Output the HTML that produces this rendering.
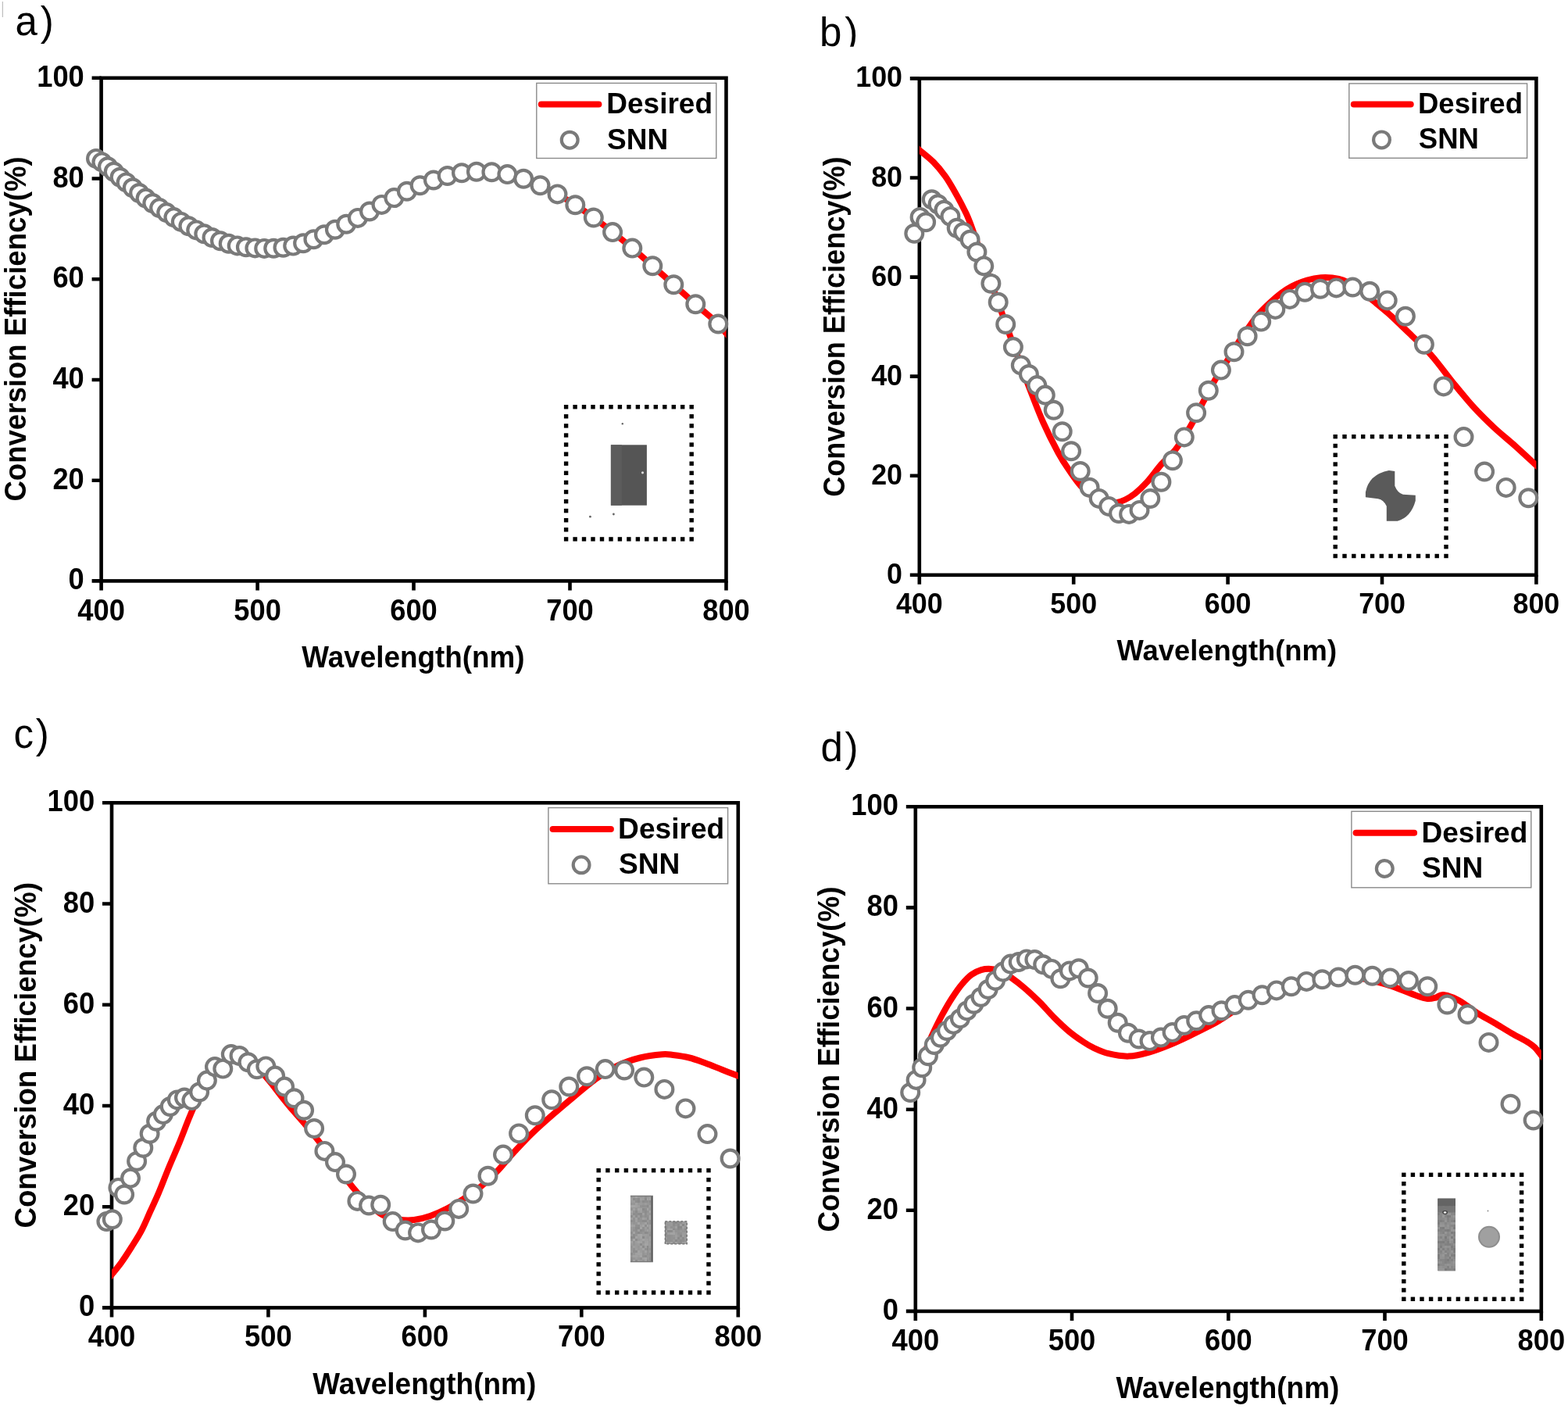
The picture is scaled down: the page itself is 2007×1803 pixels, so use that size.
<!DOCTYPE html>
<html><head><meta charset="utf-8"><title>Conversion efficiency</title><style>html,body{margin:0;padding:0;background:#fff;}svg{display:block;}</style></head><body>
<svg width="2007" height="1803" viewBox="0 0 2007 1803" font-family="Liberation Sans, Arial, Helvetica, sans-serif"><defs><clipPath id="clipb"><rect x="1030" y="0" width="100" height="59.7"/></clipPath></defs><rect width="2007" height="1803" fill="#fff"/><path d="M3.3,2V22" stroke="#b0b0b0" stroke-width="1"/><rect x="129.6" y="99.8" width="799.9" height="643.6" fill="none" stroke="#000" stroke-width="4.6"/>
<path d="M117.6,743.4H129.6M117.6,614.7H129.6M117.6,486.0H129.6M117.6,357.2H129.6M117.6,228.5H129.6M117.6,99.8H129.6M129.6,743.4V755.4M329.6,743.4V755.4M529.5,743.4V755.4M729.5,743.4V755.4M929.5,743.4V755.4" stroke="#000" stroke-width="4.6" fill="none"/>
<text transform="translate(107.8,754.4) scale(1,1.045)" font-size="36.30" font-weight="bold" text-anchor="end">0</text>
<text transform="translate(107.8,625.7) scale(1,1.045)" font-size="36.30" font-weight="bold" text-anchor="end">20</text>
<text transform="translate(107.8,497.0) scale(1,1.045)" font-size="36.30" font-weight="bold" text-anchor="end">40</text>
<text transform="translate(107.8,368.2) scale(1,1.045)" font-size="36.30" font-weight="bold" text-anchor="end">60</text>
<text transform="translate(107.8,239.5) scale(1,1.045)" font-size="36.30" font-weight="bold" text-anchor="end">80</text>
<text transform="translate(107.8,110.8) scale(1,1.045)" font-size="36.30" font-weight="bold" text-anchor="end">100</text>
<text transform="translate(129.6,793.5) scale(1,1.045)" font-size="36.30" font-weight="bold" text-anchor="middle">400</text>
<text transform="translate(329.6,793.5) scale(1,1.045)" font-size="36.30" font-weight="bold" text-anchor="middle">500</text>
<text transform="translate(529.5,793.5) scale(1,1.045)" font-size="36.30" font-weight="bold" text-anchor="middle">600</text>
<text transform="translate(729.5,793.5) scale(1,1.045)" font-size="36.30" font-weight="bold" text-anchor="middle">700</text>
<text transform="translate(929.5,793.5) scale(1,1.045)" font-size="36.30" font-weight="bold" text-anchor="middle">800</text>
<text transform="translate(386.3,853.5) scale(1,1.027)" font-size="36.85" font-weight="bold" text-anchor="start">Wavelength(nm)</text>
<text transform="translate(33.3,641.6) rotate(-90) scale(1,1.050)" font-size="36.60" font-weight="bold">Conversion Efficiency(%)</text>
<rect x="781.9" y="569.3" width="46" height="77.4" fill="#555"/><rect x="781.9" y="569.3" width="14" height="77.4" fill="#5c5c5c"/><circle cx="822.5" cy="604.8" r="1.6" fill="#ddd"/><circle cx="796.8" cy="542.3" r="1.2" fill="#666"/><circle cx="785.4" cy="658" r="1.4" fill="#666"/><circle cx="755.4" cy="661.2" r="1.4" fill="#666"/>
<g fill="#000"><rect x="721.9" y="518.0" width="5.4" height="5.4"/><rect x="733.4" y="518.0" width="5.4" height="5.4"/><rect x="744.8" y="518.0" width="5.4" height="5.4"/><rect x="756.3" y="518.0" width="5.4" height="5.4"/><rect x="767.8" y="518.0" width="5.4" height="5.4"/><rect x="779.3" y="518.0" width="5.4" height="5.4"/><rect x="790.7" y="518.0" width="5.4" height="5.4"/><rect x="802.2" y="518.0" width="5.4" height="5.4"/><rect x="813.7" y="518.0" width="5.4" height="5.4"/><rect x="825.1" y="518.0" width="5.4" height="5.4"/><rect x="836.6" y="518.0" width="5.4" height="5.4"/><rect x="848.1" y="518.0" width="5.4" height="5.4"/><rect x="859.6" y="518.0" width="5.4" height="5.4"/><rect x="871.0" y="518.0" width="5.4" height="5.4"/><rect x="882.5" y="518.0" width="5.4" height="5.4"/><rect x="721.9" y="687.2" width="5.4" height="5.4"/><rect x="733.4" y="687.2" width="5.4" height="5.4"/><rect x="744.8" y="687.2" width="5.4" height="5.4"/><rect x="756.3" y="687.2" width="5.4" height="5.4"/><rect x="767.8" y="687.2" width="5.4" height="5.4"/><rect x="779.3" y="687.2" width="5.4" height="5.4"/><rect x="790.7" y="687.2" width="5.4" height="5.4"/><rect x="802.2" y="687.2" width="5.4" height="5.4"/><rect x="813.7" y="687.2" width="5.4" height="5.4"/><rect x="825.1" y="687.2" width="5.4" height="5.4"/><rect x="836.6" y="687.2" width="5.4" height="5.4"/><rect x="848.1" y="687.2" width="5.4" height="5.4"/><rect x="859.6" y="687.2" width="5.4" height="5.4"/><rect x="871.0" y="687.2" width="5.4" height="5.4"/><rect x="882.5" y="687.2" width="5.4" height="5.4"/><rect x="721.9" y="530.1" width="5.4" height="5.4"/><rect x="721.9" y="542.2" width="5.4" height="5.4"/><rect x="721.9" y="554.3" width="5.4" height="5.4"/><rect x="721.9" y="566.3" width="5.4" height="5.4"/><rect x="721.9" y="578.4" width="5.4" height="5.4"/><rect x="721.9" y="590.5" width="5.4" height="5.4"/><rect x="721.9" y="602.6" width="5.4" height="5.4"/><rect x="721.9" y="614.7" width="5.4" height="5.4"/><rect x="721.9" y="626.8" width="5.4" height="5.4"/><rect x="721.9" y="638.9" width="5.4" height="5.4"/><rect x="721.9" y="650.9" width="5.4" height="5.4"/><rect x="721.9" y="663.0" width="5.4" height="5.4"/><rect x="721.9" y="675.1" width="5.4" height="5.4"/><rect x="882.5" y="530.1" width="5.4" height="5.4"/><rect x="882.5" y="542.2" width="5.4" height="5.4"/><rect x="882.5" y="554.3" width="5.4" height="5.4"/><rect x="882.5" y="566.3" width="5.4" height="5.4"/><rect x="882.5" y="578.4" width="5.4" height="5.4"/><rect x="882.5" y="590.5" width="5.4" height="5.4"/><rect x="882.5" y="602.6" width="5.4" height="5.4"/><rect x="882.5" y="614.7" width="5.4" height="5.4"/><rect x="882.5" y="626.8" width="5.4" height="5.4"/><rect x="882.5" y="638.9" width="5.4" height="5.4"/><rect x="882.5" y="650.9" width="5.4" height="5.4"/><rect x="882.5" y="663.0" width="5.4" height="5.4"/><rect x="882.5" y="675.1" width="5.4" height="5.4"/></g>
<clipPath id="rclipa"><rect x="129.6" y="79.8" width="799.9" height="683.6"/></clipPath>
<path clip-path="url(#rclipa)" d="M126.0,201.5 C126.6,202.3 128.9,205.3 129.6,206.3 C130.3,207.3 129.0,206.3 130.4,207.4 C131.8,208.5 135.5,211.1 138.0,213.2 C140.5,215.2 143.1,217.6 145.7,219.8 C148.3,222.1 150.9,224.4 153.6,226.7 C156.2,228.9 158.9,231.2 161.6,233.4 C164.3,235.7 167.0,237.9 169.8,240.2 C172.5,242.5 175.3,244.8 178.1,247.0 C180.9,249.2 183.7,251.4 186.6,253.6 C189.5,255.8 192.3,257.9 195.3,260.0 C198.2,262.1 201.1,264.1 204.1,266.1 C207.1,268.1 210.1,270.1 213.2,272.1 C216.2,274.1 219.3,276.1 222.4,278.1 C225.5,280.1 228.6,282.0 231.8,283.9 C235.0,285.8 238.2,287.6 241.4,289.3 C244.6,291.1 247.9,292.7 251.2,294.4 C254.5,296.1 257.9,297.7 261.3,299.3 C264.7,300.9 268.1,302.5 271.5,304.0 C275.0,305.5 278.5,306.9 282.0,308.2 C285.6,309.5 289.1,310.7 292.7,311.7 C296.4,312.8 300.0,313.6 303.7,314.4 C307.4,315.1 311.2,315.7 314.9,316.2 C318.7,316.7 322.5,317.1 326.4,317.4 C330.3,317.6 334.2,317.8 338.2,317.9 C342.1,318.0 346.1,318.0 350.2,317.8 C354.3,317.6 358.4,317.3 362.5,316.8 C366.7,316.3 370.9,315.5 375.2,314.6 C379.4,313.7 383.7,312.6 388.1,311.2 C392.5,309.8 396.9,308.1 401.4,306.3 C405.8,304.4 410.4,302.3 415.0,300.2 C419.6,298.1 424.2,296.0 428.9,293.7 C433.6,291.5 438.4,289.2 443.2,286.7 C448.1,284.2 453.0,281.6 457.9,278.9 C462.9,276.2 467.9,273.3 473.0,270.5 C478.1,267.7 483.3,264.8 488.5,261.9 C493.7,259.0 499.0,256.0 504.4,253.1 C509.8,250.2 515.2,247.4 520.8,244.7 C526.3,242.1 531.9,239.6 537.6,237.2 C543.3,234.8 549.1,232.5 554.9,230.5 C560.8,228.5 566.7,226.6 572.7,225.0 C578.7,223.5 584.8,222.2 591.0,221.3 C597.3,220.4 603.5,219.9 609.9,219.7 C616.3,219.5 622.8,219.7 629.4,220.2 C636.0,220.8 642.7,221.7 649.4,223.1 C656.2,224.5 663.1,226.3 670.1,228.7 C677.1,231.1 684.2,234.0 691.5,237.3 C698.7,240.6 706.0,244.3 713.5,248.4 C721.0,252.6 728.6,257.2 736.3,262.2 C744.0,267.2 751.8,272.7 759.8,278.5 C767.8,284.3 775.9,290.6 784.1,297.1 C792.4,303.6 800.8,310.4 809.3,317.6 C817.8,324.8 826.5,332.4 835.3,340.2 C844.2,348.0 853.2,356.1 862.3,364.3 C871.5,372.5 880.8,380.8 890.3,389.2 C899.8,397.6 912.8,408.3 919.3,414.5 C925.8,420.7 927.2,423.7 929.5,426.5 C931.8,429.3 932.7,430.3 933.4,431.1" fill="none" stroke="#ff0000" stroke-width="8.0" stroke-linejoin="round"/>
<g fill="#fff" stroke="#7a7a7a" stroke-width="4.2"><circle cx="123.0" cy="202.9" r="10.9"/><circle cx="130.4" cy="207.4" r="10.9"/><circle cx="138.0" cy="213.2" r="10.9"/><circle cx="145.7" cy="219.8" r="10.9"/><circle cx="153.6" cy="226.7" r="10.9"/><circle cx="161.6" cy="233.4" r="10.9"/><circle cx="169.8" cy="240.2" r="10.9"/><circle cx="178.1" cy="247.0" r="10.9"/><circle cx="186.6" cy="253.6" r="10.9"/><circle cx="195.3" cy="260.0" r="10.9"/><circle cx="204.1" cy="266.1" r="10.9"/><circle cx="213.2" cy="272.1" r="10.9"/><circle cx="222.4" cy="278.1" r="10.9"/><circle cx="231.8" cy="283.9" r="10.9"/><circle cx="241.4" cy="289.3" r="10.9"/><circle cx="251.2" cy="294.4" r="10.9"/><circle cx="261.3" cy="299.3" r="10.9"/><circle cx="271.5" cy="304.0" r="10.9"/><circle cx="282.0" cy="308.2" r="10.9"/><circle cx="292.7" cy="311.7" r="10.9"/><circle cx="303.7" cy="314.4" r="10.9"/><circle cx="314.9" cy="316.2" r="10.9"/><circle cx="326.4" cy="317.4" r="10.9"/><circle cx="338.2" cy="317.9" r="10.9"/><circle cx="350.2" cy="317.8" r="10.9"/><circle cx="362.5" cy="316.8" r="10.9"/><circle cx="375.2" cy="314.6" r="10.9"/><circle cx="388.1" cy="311.2" r="10.9"/><circle cx="401.4" cy="306.3" r="10.9"/><circle cx="415.0" cy="300.2" r="10.9"/><circle cx="428.9" cy="293.7" r="10.9"/><circle cx="443.2" cy="286.7" r="10.9"/><circle cx="457.9" cy="278.9" r="10.9"/><circle cx="473.0" cy="270.5" r="10.9"/><circle cx="488.5" cy="261.9" r="10.9"/><circle cx="504.4" cy="253.1" r="10.9"/><circle cx="520.8" cy="244.7" r="10.9"/><circle cx="537.6" cy="237.2" r="10.9"/><circle cx="554.9" cy="230.5" r="10.9"/><circle cx="572.7" cy="225.0" r="10.9"/><circle cx="591.0" cy="221.3" r="10.9"/><circle cx="609.9" cy="219.7" r="10.9"/><circle cx="629.4" cy="220.2" r="10.9"/><circle cx="649.4" cy="223.1" r="10.9"/><circle cx="670.1" cy="228.7" r="10.9"/><circle cx="691.5" cy="237.3" r="10.9"/><circle cx="713.5" cy="248.4" r="10.9"/><circle cx="736.3" cy="262.2" r="10.9"/><circle cx="759.8" cy="278.5" r="10.9"/><circle cx="784.1" cy="297.1" r="10.9"/><circle cx="809.3" cy="317.6" r="10.9"/><circle cx="835.3" cy="340.2" r="10.9"/><circle cx="862.3" cy="364.3" r="10.9"/><circle cx="890.3" cy="389.2" r="10.9"/><circle cx="919.3" cy="414.5" r="10.9"/></g>
<rect x="686.8" y="106.4" width="230.0" height="96.1" fill="#fff" stroke="#8a8a8a" stroke-width="1.4"/>
<path d="M692.8,133.5H766.4" stroke="#ff0000" stroke-width="8" stroke-linecap="round"/>
<circle cx="729.2" cy="179.2" r="10.4" fill="#fff" stroke="#7a7a7a" stroke-width="4.2"/>
<text x="776.3" y="144.9" font-size="37.00" font-weight="bold" text-anchor="start">Desired</text>
<text x="777.1" y="190.9" font-size="37.00" font-weight="bold" text-anchor="start">SNN</text>
<text x="19.4" y="44.8" font-size="51" font-weight="normal">a</text><text x="51.8" y="44.8" font-size="51" font-weight="normal">)</text>
<rect x="1176.8" y="100.4" width="789.6" height="635.4" fill="none" stroke="#000" stroke-width="4.6"/>
<path d="M1164.8,735.8H1176.8M1164.8,608.7H1176.8M1164.8,481.6H1176.8M1164.8,354.6H1176.8M1164.8,227.5H1176.8M1164.8,100.4H1176.8M1176.8,735.8V747.8M1374.2,735.8V747.8M1571.6,735.8V747.8M1769.0,735.8V747.8M1966.4,735.8V747.8" stroke="#000" stroke-width="4.6" fill="none"/>
<text transform="translate(1155.0,746.8) scale(1,1.045)" font-size="35.83" font-weight="bold" text-anchor="end">0</text>
<text transform="translate(1155.0,619.7) scale(1,1.045)" font-size="35.83" font-weight="bold" text-anchor="end">20</text>
<text transform="translate(1155.0,492.6) scale(1,1.045)" font-size="35.83" font-weight="bold" text-anchor="end">40</text>
<text transform="translate(1155.0,365.6) scale(1,1.045)" font-size="35.83" font-weight="bold" text-anchor="end">60</text>
<text transform="translate(1155.0,238.5) scale(1,1.045)" font-size="35.83" font-weight="bold" text-anchor="end">80</text>
<text transform="translate(1155.0,111.4) scale(1,1.045)" font-size="35.83" font-weight="bold" text-anchor="end">100</text>
<text transform="translate(1176.8,784.6) scale(1,1.045)" font-size="35.83" font-weight="bold" text-anchor="middle">400</text>
<text transform="translate(1374.2,784.6) scale(1,1.045)" font-size="35.83" font-weight="bold" text-anchor="middle">500</text>
<text transform="translate(1571.6,784.6) scale(1,1.045)" font-size="35.83" font-weight="bold" text-anchor="middle">600</text>
<text transform="translate(1769.0,784.6) scale(1,1.045)" font-size="35.83" font-weight="bold" text-anchor="middle">700</text>
<text transform="translate(1966.4,784.6) scale(1,1.045)" font-size="35.83" font-weight="bold" text-anchor="middle">800</text>
<text transform="translate(1429.5,845.0) scale(1,1.027)" font-size="36.37" font-weight="bold" text-anchor="start">Wavelength(nm)</text>
<text transform="translate(1081.0,635.8) rotate(-90) scale(1,1.050)" font-size="36.12" font-weight="bold">Conversion Efficiency(%)</text>
<path d="M1747.9,629.8 Q1752,607 1777.8,601.9 L1785.3,602.9 L1785.3,621.8 Q1789,631 1795.8,632.8 L1811.8,633.8 L1811.8,640.8 Q1806,662 1788.8,666.8 L1774.8,666.8 L1774.8,647.8 Q1771,639.5 1763.9,638.3 L1747.9,636.3 Z" fill="#5a5a5a"/>
<g fill="#000"><rect x="1706.5" y="556.0" width="5.4" height="5.4"/><rect x="1718.3" y="556.0" width="5.4" height="5.4"/><rect x="1730.1" y="556.0" width="5.4" height="5.4"/><rect x="1742.0" y="556.0" width="5.4" height="5.4"/><rect x="1753.8" y="556.0" width="5.4" height="5.4"/><rect x="1765.6" y="556.0" width="5.4" height="5.4"/><rect x="1777.4" y="556.0" width="5.4" height="5.4"/><rect x="1789.2" y="556.0" width="5.4" height="5.4"/><rect x="1801.0" y="556.0" width="5.4" height="5.4"/><rect x="1812.8" y="556.0" width="5.4" height="5.4"/><rect x="1824.7" y="556.0" width="5.4" height="5.4"/><rect x="1836.5" y="556.0" width="5.4" height="5.4"/><rect x="1848.3" y="556.0" width="5.4" height="5.4"/><rect x="1706.5" y="708.8" width="5.4" height="5.4"/><rect x="1718.3" y="708.8" width="5.4" height="5.4"/><rect x="1730.1" y="708.8" width="5.4" height="5.4"/><rect x="1742.0" y="708.8" width="5.4" height="5.4"/><rect x="1753.8" y="708.8" width="5.4" height="5.4"/><rect x="1765.6" y="708.8" width="5.4" height="5.4"/><rect x="1777.4" y="708.8" width="5.4" height="5.4"/><rect x="1789.2" y="708.8" width="5.4" height="5.4"/><rect x="1801.0" y="708.8" width="5.4" height="5.4"/><rect x="1812.8" y="708.8" width="5.4" height="5.4"/><rect x="1824.7" y="708.8" width="5.4" height="5.4"/><rect x="1836.5" y="708.8" width="5.4" height="5.4"/><rect x="1848.3" y="708.8" width="5.4" height="5.4"/><rect x="1706.5" y="567.8" width="5.4" height="5.4"/><rect x="1706.5" y="579.5" width="5.4" height="5.4"/><rect x="1706.5" y="591.3" width="5.4" height="5.4"/><rect x="1706.5" y="603.0" width="5.4" height="5.4"/><rect x="1706.5" y="614.8" width="5.4" height="5.4"/><rect x="1706.5" y="626.5" width="5.4" height="5.4"/><rect x="1706.5" y="638.3" width="5.4" height="5.4"/><rect x="1706.5" y="650.0" width="5.4" height="5.4"/><rect x="1706.5" y="661.8" width="5.4" height="5.4"/><rect x="1706.5" y="673.5" width="5.4" height="5.4"/><rect x="1706.5" y="685.3" width="5.4" height="5.4"/><rect x="1706.5" y="697.0" width="5.4" height="5.4"/><rect x="1848.3" y="567.8" width="5.4" height="5.4"/><rect x="1848.3" y="579.5" width="5.4" height="5.4"/><rect x="1848.3" y="591.3" width="5.4" height="5.4"/><rect x="1848.3" y="603.0" width="5.4" height="5.4"/><rect x="1848.3" y="614.8" width="5.4" height="5.4"/><rect x="1848.3" y="626.5" width="5.4" height="5.4"/><rect x="1848.3" y="638.3" width="5.4" height="5.4"/><rect x="1848.3" y="650.0" width="5.4" height="5.4"/><rect x="1848.3" y="661.8" width="5.4" height="5.4"/><rect x="1848.3" y="673.5" width="5.4" height="5.4"/><rect x="1848.3" y="685.3" width="5.4" height="5.4"/><rect x="1848.3" y="697.0" width="5.4" height="5.4"/></g>
<clipPath id="rclipb"><rect x="1176.8" y="80.4" width="789.6" height="675.4"/></clipPath>
<path clip-path="url(#rclipb)" d="M1172.2,188.1 C1173.0,188.7 1173.0,188.8 1176.8,192.0 C1180.6,195.2 1189.3,201.8 1194.8,207.4 C1200.3,213.0 1205.3,219.1 1209.8,225.3 C1214.3,231.5 1217.7,237.7 1221.7,244.7 C1225.7,251.7 1230.3,260.3 1233.7,267.2 C1237.1,274.1 1237.3,273.4 1242.0,286.0 C1246.7,298.6 1255.2,323.7 1262.0,343.0 C1268.8,362.3 1277.8,387.4 1282.9,401.9 C1288.1,416.4 1289.1,419.4 1292.9,429.8 C1296.7,440.2 1301.2,452.3 1305.5,464.0 C1309.8,475.7 1314.1,487.3 1319.0,500.0 C1323.9,512.7 1329.1,526.8 1335.0,540.0 C1340.9,553.2 1348.8,568.8 1354.3,579.0 C1359.8,589.2 1363.0,593.8 1368.0,601.0 C1373.0,608.2 1378.2,616.2 1384.0,622.5 C1389.8,628.8 1397.8,635.1 1403.1,638.6 C1408.4,642.1 1411.8,642.7 1416.0,643.5 C1420.2,644.3 1424.1,644.1 1428.1,643.4 C1432.1,642.7 1435.8,641.5 1440.0,639.5 C1444.2,637.5 1448.3,635.0 1453.0,631.3 C1457.7,627.5 1462.4,623.2 1468.0,617.0 C1473.6,610.8 1480.4,601.1 1486.6,594.0 C1492.8,586.9 1499.1,582.6 1505.3,574.4 C1511.5,566.2 1518.2,555.0 1524.0,545.0 C1529.8,535.0 1534.7,524.4 1540.0,514.4 C1545.3,504.4 1550.6,494.2 1555.9,485.1 C1561.2,476.0 1566.8,468.0 1571.9,459.8 C1577.0,451.6 1581.8,443.1 1586.5,435.9 C1591.2,428.7 1595.5,422.6 1599.9,416.5 C1604.4,410.4 1607.7,405.5 1613.2,399.5 C1618.8,393.5 1627.7,385.3 1633.2,380.5 C1638.7,375.7 1641.9,373.3 1646.3,370.5 C1650.7,367.7 1655.3,365.5 1659.8,363.5 C1664.2,361.5 1667.8,359.9 1673.0,358.5 C1678.2,357.1 1685.4,355.7 1690.7,355.2 C1696.0,354.7 1700.3,354.9 1705.0,355.5 C1709.7,356.1 1713.7,356.4 1719.0,358.5 C1724.3,360.6 1730.3,363.4 1737.0,368.0 C1743.7,372.6 1752.4,380.6 1759.0,386.0 C1765.6,391.4 1771.4,396.1 1776.7,400.7 C1782.0,405.3 1786.1,409.5 1790.7,413.9 C1795.3,418.3 1797.6,420.3 1804.6,427.2 C1811.6,434.1 1823.3,444.7 1832.5,455.1 C1841.7,465.5 1850.7,478.5 1859.7,489.5 C1868.7,500.5 1877.4,511.3 1886.3,521.0 C1895.2,530.7 1904.0,539.3 1912.9,547.6 C1921.8,555.9 1930.6,562.7 1939.5,570.7 C1948.4,578.7 1961.2,590.7 1966.4,595.5 C1971.6,600.3 1970.1,598.9 1970.8,599.6" fill="none" stroke="#ff0000" stroke-width="8.0" stroke-linejoin="round"/>
<g fill="#fff" stroke="#7a7a7a" stroke-width="4.2"><circle cx="1170.3" cy="298.8" r="10.9"/><circle cx="1177.6" cy="277.9" r="10.9"/><circle cx="1185.1" cy="284.3" r="10.9"/><circle cx="1192.7" cy="255.2" r="10.9"/><circle cx="1200.5" cy="261.2" r="10.9"/><circle cx="1208.4" cy="268.7" r="10.9"/><circle cx="1216.4" cy="276.9" r="10.9"/><circle cx="1224.7" cy="291.8" r="10.9"/><circle cx="1233.1" cy="297.0" r="10.9"/><circle cx="1241.6" cy="306.8" r="10.9"/><circle cx="1250.4" cy="322.5" r="10.9"/><circle cx="1259.3" cy="340.4" r="10.9"/><circle cx="1268.4" cy="362.8" r="10.9"/><circle cx="1277.7" cy="386.7" r="10.9"/><circle cx="1287.2" cy="415.0" r="10.9"/><circle cx="1296.9" cy="444.1" r="10.9"/><circle cx="1306.8" cy="467.4" r="10.9"/><circle cx="1316.9" cy="479.0" r="10.9"/><circle cx="1327.3" cy="493.1" r="10.9"/><circle cx="1337.8" cy="505.6" r="10.9"/><circle cx="1348.7" cy="524.8" r="10.9"/><circle cx="1359.7" cy="552.2" r="10.9"/><circle cx="1371.1" cy="577.2" r="10.9"/><circle cx="1382.7" cy="603.0" r="10.9"/><circle cx="1394.6" cy="623.8" r="10.9"/><circle cx="1406.7" cy="637.9" r="10.9"/><circle cx="1419.2" cy="647.9" r="10.9"/><circle cx="1432.0" cy="657.0" r="10.9"/><circle cx="1445.1" cy="657.9" r="10.9"/><circle cx="1458.5" cy="652.9" r="10.9"/><circle cx="1472.3" cy="638.0" r="10.9"/><circle cx="1486.4" cy="616.8" r="10.9"/><circle cx="1500.9" cy="589.3" r="10.9"/><circle cx="1515.8" cy="559.4" r="10.9"/><circle cx="1531.1" cy="528.2" r="10.9"/><circle cx="1546.8" cy="499.7" r="10.9"/><circle cx="1562.9" cy="473.6" r="10.9"/><circle cx="1579.5" cy="450.2" r="10.9"/><circle cx="1596.6" cy="430.3" r="10.9"/><circle cx="1614.2" cy="411.6" r="10.9"/><circle cx="1632.3" cy="395.9" r="10.9"/><circle cx="1650.9" cy="382.9" r="10.9"/><circle cx="1670.2" cy="373.7" r="10.9"/><circle cx="1690.0" cy="369.8" r="10.9"/><circle cx="1710.4" cy="368.4" r="10.9"/><circle cx="1731.4" cy="367.5" r="10.9"/><circle cx="1753.2" cy="372.8" r="10.9"/><circle cx="1775.7" cy="384.4" r="10.9"/><circle cx="1798.9" cy="404.8" r="10.9"/><circle cx="1822.9" cy="440.8" r="10.9"/><circle cx="1847.7" cy="494.4" r="10.9"/><circle cx="1873.5" cy="559.1" r="10.9"/><circle cx="1900.1" cy="603.5" r="10.9"/><circle cx="1927.7" cy="623.9" r="10.9"/><circle cx="1956.3" cy="637.2" r="10.9"/></g>
<rect x="1726.8" y="106.9" width="227.8" height="95.4" fill="#fff" stroke="#8a8a8a" stroke-width="1.4"/>
<path d="M1732.8,133.6H1805.7" stroke="#ff0000" stroke-width="8" stroke-linecap="round"/>
<circle cx="1768.5" cy="178.9" r="10.4" fill="#fff" stroke="#7a7a7a" stroke-width="4.2"/>
<text x="1815.0" y="144.5" font-size="36.52" font-weight="bold" text-anchor="start">Desired</text>
<text x="1815.8" y="190.2" font-size="36.52" font-weight="bold" text-anchor="start">SNN</text>
<g clip-path="url(#clipb)"><text x="1049.1" y="58.6" font-size="51" font-weight="normal">b</text><text x="1081.2" y="58.6" font-size="51" font-weight="normal">)</text></g>
<rect x="143.0" y="1027.3" width="801.8" height="646.1" fill="none" stroke="#000" stroke-width="4.6"/>
<path d="M131.0,1673.4H143.0M131.0,1544.2H143.0M131.0,1415.0H143.0M131.0,1285.7H143.0M131.0,1156.5H143.0M131.0,1027.3H143.0M143.0,1673.4V1685.4M343.4,1673.4V1685.4M543.9,1673.4V1685.4M744.3,1673.4V1685.4M944.8,1673.4V1685.4" stroke="#000" stroke-width="4.6" fill="none"/>
<text transform="translate(121.2,1684.4) scale(1,1.045)" font-size="36.41" font-weight="bold" text-anchor="end">0</text>
<text transform="translate(121.2,1555.2) scale(1,1.045)" font-size="36.41" font-weight="bold" text-anchor="end">20</text>
<text transform="translate(121.2,1426.0) scale(1,1.045)" font-size="36.41" font-weight="bold" text-anchor="end">40</text>
<text transform="translate(121.2,1296.7) scale(1,1.045)" font-size="36.41" font-weight="bold" text-anchor="end">60</text>
<text transform="translate(121.2,1167.5) scale(1,1.045)" font-size="36.41" font-weight="bold" text-anchor="end">80</text>
<text transform="translate(121.2,1038.3) scale(1,1.045)" font-size="36.41" font-weight="bold" text-anchor="end">100</text>
<text transform="translate(143.0,1723.3) scale(1,1.045)" font-size="36.41" font-weight="bold" text-anchor="middle">400</text>
<text transform="translate(343.4,1723.3) scale(1,1.045)" font-size="36.41" font-weight="bold" text-anchor="middle">500</text>
<text transform="translate(543.9,1723.3) scale(1,1.045)" font-size="36.41" font-weight="bold" text-anchor="middle">600</text>
<text transform="translate(744.3,1723.3) scale(1,1.045)" font-size="36.41" font-weight="bold" text-anchor="middle">700</text>
<text transform="translate(944.8,1723.3) scale(1,1.045)" font-size="36.41" font-weight="bold" text-anchor="middle">800</text>
<text transform="translate(400.2,1784.2) scale(1,1.027)" font-size="36.96" font-weight="bold" text-anchor="start">Wavelength(nm)</text>
<text transform="translate(46.3,1571.6) rotate(-90) scale(1,1.050)" font-size="36.71" font-weight="bold">Conversion Efficiency(%)</text>
<rect x="806.9" y="1530.4" width="26.5" height="84.3" fill="#989898"/><g shape-rendering="crispEdges"><rect x="806.9" y="1530.4" width="2.99" height="3.06" fill="#969696"/><rect x="809.8" y="1530.4" width="2.99" height="3.06" fill="#999999"/><rect x="812.8" y="1530.4" width="2.99" height="3.06" fill="#a3a3a3"/><rect x="815.7" y="1530.4" width="2.99" height="3.06" fill="#979797"/><rect x="818.7" y="1530.4" width="2.99" height="3.06" fill="#989898"/><rect x="821.6" y="1530.4" width="2.99" height="3.06" fill="#9a9a9a"/><rect x="824.6" y="1530.4" width="2.99" height="3.06" fill="#8f8f8f"/><rect x="827.5" y="1530.4" width="2.99" height="3.06" fill="#989898"/><rect x="830.5" y="1530.4" width="2.99" height="3.06" fill="#9b9b9b"/><rect x="806.9" y="1533.4" width="2.99" height="3.06" fill="#a0a0a0"/><rect x="809.8" y="1533.4" width="2.99" height="3.06" fill="#8c8c8c"/><rect x="812.8" y="1533.4" width="2.99" height="3.06" fill="#929292"/><rect x="815.7" y="1533.4" width="2.99" height="3.06" fill="#8c8c8c"/><rect x="818.7" y="1533.4" width="2.99" height="3.06" fill="#a0a0a0"/><rect x="821.6" y="1533.4" width="2.99" height="3.06" fill="#9d9d9d"/><rect x="824.6" y="1533.4" width="2.99" height="3.06" fill="#8b8b8b"/><rect x="827.5" y="1533.4" width="2.99" height="3.06" fill="#a5a5a5"/><rect x="830.5" y="1533.4" width="2.99" height="3.06" fill="#a5a5a5"/><rect x="806.9" y="1536.4" width="2.99" height="3.06" fill="#9c9c9c"/><rect x="809.8" y="1536.4" width="2.99" height="3.06" fill="#9b9b9b"/><rect x="812.8" y="1536.4" width="2.99" height="3.06" fill="#8e8e8e"/><rect x="815.7" y="1536.4" width="2.99" height="3.06" fill="#8a8a8a"/><rect x="818.7" y="1536.4" width="2.99" height="3.06" fill="#989898"/><rect x="821.6" y="1536.4" width="2.99" height="3.06" fill="#8b8b8b"/><rect x="824.6" y="1536.4" width="2.99" height="3.06" fill="#8f8f8f"/><rect x="827.5" y="1536.4" width="2.99" height="3.06" fill="#909090"/><rect x="830.5" y="1536.4" width="2.99" height="3.06" fill="#8a8a8a"/><rect x="806.9" y="1539.4" width="2.99" height="3.06" fill="#969696"/><rect x="809.8" y="1539.4" width="2.99" height="3.06" fill="#969696"/><rect x="812.8" y="1539.4" width="2.99" height="3.06" fill="#a1a1a1"/><rect x="815.7" y="1539.4" width="2.99" height="3.06" fill="#989898"/><rect x="818.7" y="1539.4" width="2.99" height="3.06" fill="#9b9b9b"/><rect x="821.6" y="1539.4" width="2.99" height="3.06" fill="#979797"/><rect x="824.6" y="1539.4" width="2.99" height="3.06" fill="#9c9c9c"/><rect x="827.5" y="1539.4" width="2.99" height="3.06" fill="#969696"/><rect x="830.5" y="1539.4" width="2.99" height="3.06" fill="#919191"/><rect x="806.9" y="1542.4" width="2.99" height="3.06" fill="#a5a5a5"/><rect x="809.8" y="1542.4" width="2.99" height="3.06" fill="#a5a5a5"/><rect x="812.8" y="1542.4" width="2.99" height="3.06" fill="#a1a1a1"/><rect x="815.7" y="1542.4" width="2.99" height="3.06" fill="#9d9d9d"/><rect x="818.7" y="1542.4" width="2.99" height="3.06" fill="#929292"/><rect x="821.6" y="1542.4" width="2.99" height="3.06" fill="#909090"/><rect x="824.6" y="1542.4" width="2.99" height="3.06" fill="#929292"/><rect x="827.5" y="1542.4" width="2.99" height="3.06" fill="#8b8b8b"/><rect x="830.5" y="1542.4" width="2.99" height="3.06" fill="#9f9f9f"/><rect x="806.9" y="1545.5" width="2.99" height="3.06" fill="#959595"/><rect x="809.8" y="1545.5" width="2.99" height="3.06" fill="#a1a1a1"/><rect x="812.8" y="1545.5" width="2.99" height="3.06" fill="#949494"/><rect x="815.7" y="1545.5" width="2.99" height="3.06" fill="#a4a4a4"/><rect x="818.7" y="1545.5" width="2.99" height="3.06" fill="#a1a1a1"/><rect x="821.6" y="1545.5" width="2.99" height="3.06" fill="#8a8a8a"/><rect x="824.6" y="1545.5" width="2.99" height="3.06" fill="#8f8f8f"/><rect x="827.5" y="1545.5" width="2.99" height="3.06" fill="#a3a3a3"/><rect x="830.5" y="1545.5" width="2.99" height="3.06" fill="#979797"/><rect x="806.9" y="1548.5" width="2.99" height="3.06" fill="#a5a5a5"/><rect x="809.8" y="1548.5" width="2.99" height="3.06" fill="#959595"/><rect x="812.8" y="1548.5" width="2.99" height="3.06" fill="#8c8c8c"/><rect x="815.7" y="1548.5" width="2.99" height="3.06" fill="#9b9b9b"/><rect x="818.7" y="1548.5" width="2.99" height="3.06" fill="#9f9f9f"/><rect x="821.6" y="1548.5" width="2.99" height="3.06" fill="#919191"/><rect x="824.6" y="1548.5" width="2.99" height="3.06" fill="#8c8c8c"/><rect x="827.5" y="1548.5" width="2.99" height="3.06" fill="#939393"/><rect x="830.5" y="1548.5" width="2.99" height="3.06" fill="#a4a4a4"/><rect x="806.9" y="1551.5" width="2.99" height="3.06" fill="#9f9f9f"/><rect x="809.8" y="1551.5" width="2.99" height="3.06" fill="#8d8d8d"/><rect x="812.8" y="1551.5" width="2.99" height="3.06" fill="#909090"/><rect x="815.7" y="1551.5" width="2.99" height="3.06" fill="#8c8c8c"/><rect x="818.7" y="1551.5" width="2.99" height="3.06" fill="#8b8b8b"/><rect x="821.6" y="1551.5" width="2.99" height="3.06" fill="#a0a0a0"/><rect x="824.6" y="1551.5" width="2.99" height="3.06" fill="#8e8e8e"/><rect x="827.5" y="1551.5" width="2.99" height="3.06" fill="#999999"/><rect x="830.5" y="1551.5" width="2.99" height="3.06" fill="#969696"/><rect x="806.9" y="1554.5" width="2.99" height="3.06" fill="#8f8f8f"/><rect x="809.8" y="1554.5" width="2.99" height="3.06" fill="#9e9e9e"/><rect x="812.8" y="1554.5" width="2.99" height="3.06" fill="#8d8d8d"/><rect x="815.7" y="1554.5" width="2.99" height="3.06" fill="#9c9c9c"/><rect x="818.7" y="1554.5" width="2.99" height="3.06" fill="#8d8d8d"/><rect x="821.6" y="1554.5" width="2.99" height="3.06" fill="#959595"/><rect x="824.6" y="1554.5" width="2.99" height="3.06" fill="#8f8f8f"/><rect x="827.5" y="1554.5" width="2.99" height="3.06" fill="#919191"/><rect x="830.5" y="1554.5" width="2.99" height="3.06" fill="#a5a5a5"/><rect x="806.9" y="1557.5" width="2.99" height="3.06" fill="#a0a0a0"/><rect x="809.8" y="1557.5" width="2.99" height="3.06" fill="#929292"/><rect x="812.8" y="1557.5" width="2.99" height="3.06" fill="#a2a2a2"/><rect x="815.7" y="1557.5" width="2.99" height="3.06" fill="#8f8f8f"/><rect x="818.7" y="1557.5" width="2.99" height="3.06" fill="#959595"/><rect x="821.6" y="1557.5" width="2.99" height="3.06" fill="#a1a1a1"/><rect x="824.6" y="1557.5" width="2.99" height="3.06" fill="#9b9b9b"/><rect x="827.5" y="1557.5" width="2.99" height="3.06" fill="#8c8c8c"/><rect x="830.5" y="1557.5" width="2.99" height="3.06" fill="#a5a5a5"/><rect x="806.9" y="1560.5" width="2.99" height="3.06" fill="#8f8f8f"/><rect x="809.8" y="1560.5" width="2.99" height="3.06" fill="#919191"/><rect x="812.8" y="1560.5" width="2.99" height="3.06" fill="#9f9f9f"/><rect x="815.7" y="1560.5" width="2.99" height="3.06" fill="#939393"/><rect x="818.7" y="1560.5" width="2.99" height="3.06" fill="#929292"/><rect x="821.6" y="1560.5" width="2.99" height="3.06" fill="#8c8c8c"/><rect x="824.6" y="1560.5" width="2.99" height="3.06" fill="#8c8c8c"/><rect x="827.5" y="1560.5" width="2.99" height="3.06" fill="#9a9a9a"/><rect x="830.5" y="1560.5" width="2.99" height="3.06" fill="#909090"/><rect x="806.9" y="1563.5" width="2.99" height="3.06" fill="#9a9a9a"/><rect x="809.8" y="1563.5" width="2.99" height="3.06" fill="#949494"/><rect x="812.8" y="1563.5" width="2.99" height="3.06" fill="#969696"/><rect x="815.7" y="1563.5" width="2.99" height="3.06" fill="#a4a4a4"/><rect x="818.7" y="1563.5" width="2.99" height="3.06" fill="#979797"/><rect x="821.6" y="1563.5" width="2.99" height="3.06" fill="#9a9a9a"/><rect x="824.6" y="1563.5" width="2.99" height="3.06" fill="#a2a2a2"/><rect x="827.5" y="1563.5" width="2.99" height="3.06" fill="#8f8f8f"/><rect x="830.5" y="1563.5" width="2.99" height="3.06" fill="#8e8e8e"/><rect x="806.9" y="1566.5" width="2.99" height="3.06" fill="#a3a3a3"/><rect x="809.8" y="1566.5" width="2.99" height="3.06" fill="#a0a0a0"/><rect x="812.8" y="1566.5" width="2.99" height="3.06" fill="#909090"/><rect x="815.7" y="1566.5" width="2.99" height="3.06" fill="#8f8f8f"/><rect x="818.7" y="1566.5" width="2.99" height="3.06" fill="#9e9e9e"/><rect x="821.6" y="1566.5" width="2.99" height="3.06" fill="#a4a4a4"/><rect x="824.6" y="1566.5" width="2.99" height="3.06" fill="#8f8f8f"/><rect x="827.5" y="1566.5" width="2.99" height="3.06" fill="#a4a4a4"/><rect x="830.5" y="1566.5" width="2.99" height="3.06" fill="#a2a2a2"/><rect x="806.9" y="1569.5" width="2.99" height="3.06" fill="#9a9a9a"/><rect x="809.8" y="1569.5" width="2.99" height="3.06" fill="#959595"/><rect x="812.8" y="1569.5" width="2.99" height="3.06" fill="#8c8c8c"/><rect x="815.7" y="1569.5" width="2.99" height="3.06" fill="#8b8b8b"/><rect x="818.7" y="1569.5" width="2.99" height="3.06" fill="#a4a4a4"/><rect x="821.6" y="1569.5" width="2.99" height="3.06" fill="#909090"/><rect x="824.6" y="1569.5" width="2.99" height="3.06" fill="#9d9d9d"/><rect x="827.5" y="1569.5" width="2.99" height="3.06" fill="#919191"/><rect x="830.5" y="1569.5" width="2.99" height="3.06" fill="#a1a1a1"/><rect x="806.9" y="1572.6" width="2.99" height="3.06" fill="#9a9a9a"/><rect x="809.8" y="1572.6" width="2.99" height="3.06" fill="#929292"/><rect x="812.8" y="1572.6" width="2.99" height="3.06" fill="#8e8e8e"/><rect x="815.7" y="1572.6" width="2.99" height="3.06" fill="#9e9e9e"/><rect x="818.7" y="1572.6" width="2.99" height="3.06" fill="#8b8b8b"/><rect x="821.6" y="1572.6" width="2.99" height="3.06" fill="#909090"/><rect x="824.6" y="1572.6" width="2.99" height="3.06" fill="#999999"/><rect x="827.5" y="1572.6" width="2.99" height="3.06" fill="#a1a1a1"/><rect x="830.5" y="1572.6" width="2.99" height="3.06" fill="#9b9b9b"/><rect x="806.9" y="1575.6" width="2.99" height="3.06" fill="#919191"/><rect x="809.8" y="1575.6" width="2.99" height="3.06" fill="#a3a3a3"/><rect x="812.8" y="1575.6" width="2.99" height="3.06" fill="#8f8f8f"/><rect x="815.7" y="1575.6" width="2.99" height="3.06" fill="#8a8a8a"/><rect x="818.7" y="1575.6" width="2.99" height="3.06" fill="#919191"/><rect x="821.6" y="1575.6" width="2.99" height="3.06" fill="#969696"/><rect x="824.6" y="1575.6" width="2.99" height="3.06" fill="#8b8b8b"/><rect x="827.5" y="1575.6" width="2.99" height="3.06" fill="#8e8e8e"/><rect x="830.5" y="1575.6" width="2.99" height="3.06" fill="#949494"/><rect x="806.9" y="1578.6" width="2.99" height="3.06" fill="#9a9a9a"/><rect x="809.8" y="1578.6" width="2.99" height="3.06" fill="#8d8d8d"/><rect x="812.8" y="1578.6" width="2.99" height="3.06" fill="#949494"/><rect x="815.7" y="1578.6" width="2.99" height="3.06" fill="#a2a2a2"/><rect x="818.7" y="1578.6" width="2.99" height="3.06" fill="#a5a5a5"/><rect x="821.6" y="1578.6" width="2.99" height="3.06" fill="#9c9c9c"/><rect x="824.6" y="1578.6" width="2.99" height="3.06" fill="#9d9d9d"/><rect x="827.5" y="1578.6" width="2.99" height="3.06" fill="#9a9a9a"/><rect x="830.5" y="1578.6" width="2.99" height="3.06" fill="#8d8d8d"/><rect x="806.9" y="1581.6" width="2.99" height="3.06" fill="#8a8a8a"/><rect x="809.8" y="1581.6" width="2.99" height="3.06" fill="#8a8a8a"/><rect x="812.8" y="1581.6" width="2.99" height="3.06" fill="#a3a3a3"/><rect x="815.7" y="1581.6" width="2.99" height="3.06" fill="#9d9d9d"/><rect x="818.7" y="1581.6" width="2.99" height="3.06" fill="#a4a4a4"/><rect x="821.6" y="1581.6" width="2.99" height="3.06" fill="#8a8a8a"/><rect x="824.6" y="1581.6" width="2.99" height="3.06" fill="#9b9b9b"/><rect x="827.5" y="1581.6" width="2.99" height="3.06" fill="#979797"/><rect x="830.5" y="1581.6" width="2.99" height="3.06" fill="#9e9e9e"/><rect x="806.9" y="1584.6" width="2.99" height="3.06" fill="#929292"/><rect x="809.8" y="1584.6" width="2.99" height="3.06" fill="#a5a5a5"/><rect x="812.8" y="1584.6" width="2.99" height="3.06" fill="#8c8c8c"/><rect x="815.7" y="1584.6" width="2.99" height="3.06" fill="#999999"/><rect x="818.7" y="1584.6" width="2.99" height="3.06" fill="#9e9e9e"/><rect x="821.6" y="1584.6" width="2.99" height="3.06" fill="#a3a3a3"/><rect x="824.6" y="1584.6" width="2.99" height="3.06" fill="#9e9e9e"/><rect x="827.5" y="1584.6" width="2.99" height="3.06" fill="#9d9d9d"/><rect x="830.5" y="1584.6" width="2.99" height="3.06" fill="#a0a0a0"/><rect x="806.9" y="1587.6" width="2.99" height="3.06" fill="#a3a3a3"/><rect x="809.8" y="1587.6" width="2.99" height="3.06" fill="#939393"/><rect x="812.8" y="1587.6" width="2.99" height="3.06" fill="#9d9d9d"/><rect x="815.7" y="1587.6" width="2.99" height="3.06" fill="#a3a3a3"/><rect x="818.7" y="1587.6" width="2.99" height="3.06" fill="#a2a2a2"/><rect x="821.6" y="1587.6" width="2.99" height="3.06" fill="#959595"/><rect x="824.6" y="1587.6" width="2.99" height="3.06" fill="#a0a0a0"/><rect x="827.5" y="1587.6" width="2.99" height="3.06" fill="#a2a2a2"/><rect x="830.5" y="1587.6" width="2.99" height="3.06" fill="#9a9a9a"/><rect x="806.9" y="1590.6" width="2.99" height="3.06" fill="#9b9b9b"/><rect x="809.8" y="1590.6" width="2.99" height="3.06" fill="#949494"/><rect x="812.8" y="1590.6" width="2.99" height="3.06" fill="#9a9a9a"/><rect x="815.7" y="1590.6" width="2.99" height="3.06" fill="#9b9b9b"/><rect x="818.7" y="1590.6" width="2.99" height="3.06" fill="#8c8c8c"/><rect x="821.6" y="1590.6" width="2.99" height="3.06" fill="#9b9b9b"/><rect x="824.6" y="1590.6" width="2.99" height="3.06" fill="#a5a5a5"/><rect x="827.5" y="1590.6" width="2.99" height="3.06" fill="#a2a2a2"/><rect x="830.5" y="1590.6" width="2.99" height="3.06" fill="#9e9e9e"/><rect x="806.9" y="1593.6" width="2.99" height="3.06" fill="#949494"/><rect x="809.8" y="1593.6" width="2.99" height="3.06" fill="#9e9e9e"/><rect x="812.8" y="1593.6" width="2.99" height="3.06" fill="#9a9a9a"/><rect x="815.7" y="1593.6" width="2.99" height="3.06" fill="#969696"/><rect x="818.7" y="1593.6" width="2.99" height="3.06" fill="#a1a1a1"/><rect x="821.6" y="1593.6" width="2.99" height="3.06" fill="#8c8c8c"/><rect x="824.6" y="1593.6" width="2.99" height="3.06" fill="#9f9f9f"/><rect x="827.5" y="1593.6" width="2.99" height="3.06" fill="#8a8a8a"/><rect x="830.5" y="1593.6" width="2.99" height="3.06" fill="#9a9a9a"/><rect x="806.9" y="1596.6" width="2.99" height="3.06" fill="#979797"/><rect x="809.8" y="1596.6" width="2.99" height="3.06" fill="#909090"/><rect x="812.8" y="1596.6" width="2.99" height="3.06" fill="#9d9d9d"/><rect x="815.7" y="1596.6" width="2.99" height="3.06" fill="#979797"/><rect x="818.7" y="1596.6" width="2.99" height="3.06" fill="#9b9b9b"/><rect x="821.6" y="1596.6" width="2.99" height="3.06" fill="#a3a3a3"/><rect x="824.6" y="1596.6" width="2.99" height="3.06" fill="#919191"/><rect x="827.5" y="1596.6" width="2.99" height="3.06" fill="#8a8a8a"/><rect x="830.5" y="1596.6" width="2.99" height="3.06" fill="#929292"/><rect x="806.9" y="1599.6" width="2.99" height="3.06" fill="#9c9c9c"/><rect x="809.8" y="1599.6" width="2.99" height="3.06" fill="#8f8f8f"/><rect x="812.8" y="1599.6" width="2.99" height="3.06" fill="#8e8e8e"/><rect x="815.7" y="1599.6" width="2.99" height="3.06" fill="#a3a3a3"/><rect x="818.7" y="1599.6" width="2.99" height="3.06" fill="#9c9c9c"/><rect x="821.6" y="1599.6" width="2.99" height="3.06" fill="#969696"/><rect x="824.6" y="1599.6" width="2.99" height="3.06" fill="#a2a2a2"/><rect x="827.5" y="1599.6" width="2.99" height="3.06" fill="#939393"/><rect x="830.5" y="1599.6" width="2.99" height="3.06" fill="#9c9c9c"/><rect x="806.9" y="1602.7" width="2.99" height="3.06" fill="#8f8f8f"/><rect x="809.8" y="1602.7" width="2.99" height="3.06" fill="#969696"/><rect x="812.8" y="1602.7" width="2.99" height="3.06" fill="#a0a0a0"/><rect x="815.7" y="1602.7" width="2.99" height="3.06" fill="#a3a3a3"/><rect x="818.7" y="1602.7" width="2.99" height="3.06" fill="#a2a2a2"/><rect x="821.6" y="1602.7" width="2.99" height="3.06" fill="#949494"/><rect x="824.6" y="1602.7" width="2.99" height="3.06" fill="#9a9a9a"/><rect x="827.5" y="1602.7" width="2.99" height="3.06" fill="#929292"/><rect x="830.5" y="1602.7" width="2.99" height="3.06" fill="#8d8d8d"/><rect x="806.9" y="1605.7" width="2.99" height="3.06" fill="#979797"/><rect x="809.8" y="1605.7" width="2.99" height="3.06" fill="#a1a1a1"/><rect x="812.8" y="1605.7" width="2.99" height="3.06" fill="#a1a1a1"/><rect x="815.7" y="1605.7" width="2.99" height="3.06" fill="#9d9d9d"/><rect x="818.7" y="1605.7" width="2.99" height="3.06" fill="#a4a4a4"/><rect x="821.6" y="1605.7" width="2.99" height="3.06" fill="#919191"/><rect x="824.6" y="1605.7" width="2.99" height="3.06" fill="#8e8e8e"/><rect x="827.5" y="1605.7" width="2.99" height="3.06" fill="#969696"/><rect x="830.5" y="1605.7" width="2.99" height="3.06" fill="#919191"/><rect x="806.9" y="1608.7" width="2.99" height="3.06" fill="#8f8f8f"/><rect x="809.8" y="1608.7" width="2.99" height="3.06" fill="#959595"/><rect x="812.8" y="1608.7" width="2.99" height="3.06" fill="#9b9b9b"/><rect x="815.7" y="1608.7" width="2.99" height="3.06" fill="#979797"/><rect x="818.7" y="1608.7" width="2.99" height="3.06" fill="#929292"/><rect x="821.6" y="1608.7" width="2.99" height="3.06" fill="#a1a1a1"/><rect x="824.6" y="1608.7" width="2.99" height="3.06" fill="#a5a5a5"/><rect x="827.5" y="1608.7" width="2.99" height="3.06" fill="#969696"/><rect x="830.5" y="1608.7" width="2.99" height="3.06" fill="#8c8c8c"/><rect x="806.9" y="1611.7" width="2.99" height="3.06" fill="#8a8a8a"/><rect x="809.8" y="1611.7" width="2.99" height="3.06" fill="#a2a2a2"/><rect x="812.8" y="1611.7" width="2.99" height="3.06" fill="#8b8b8b"/><rect x="815.7" y="1611.7" width="2.99" height="3.06" fill="#9d9d9d"/><rect x="818.7" y="1611.7" width="2.99" height="3.06" fill="#999999"/><rect x="821.6" y="1611.7" width="2.99" height="3.06" fill="#929292"/><rect x="824.6" y="1611.7" width="2.99" height="3.06" fill="#a0a0a0"/><rect x="827.5" y="1611.7" width="2.99" height="3.06" fill="#8a8a8a"/><rect x="830.5" y="1611.7" width="2.99" height="3.06" fill="#8d8d8d"/></g><rect x="833.2" y="1530.4" width="2.6" height="84.3" fill="#5e5e5e"/><path d="M806.9,1530.4h28.9M806.9,1614.7h28.9" stroke="#777" stroke-width="1.2"/><rect x="851.3" y="1562.8" width="28.0" height="29.0" fill="#969696"/><g shape-rendering="crispEdges"><rect x="851.3" y="1562.8" width="3.16" height="2.95" fill="#959595"/><rect x="854.4" y="1562.8" width="3.16" height="2.95" fill="#9a9a9a"/><rect x="857.5" y="1562.8" width="3.16" height="2.95" fill="#9a9a9a"/><rect x="860.6" y="1562.8" width="3.16" height="2.95" fill="#8b8b8b"/><rect x="863.7" y="1562.8" width="3.16" height="2.95" fill="#888888"/><rect x="866.9" y="1562.8" width="3.16" height="2.95" fill="#929292"/><rect x="870.0" y="1562.8" width="3.16" height="2.95" fill="#8f8f8f"/><rect x="873.1" y="1562.8" width="3.16" height="2.95" fill="#9e9e9e"/><rect x="876.2" y="1562.8" width="3.16" height="2.95" fill="#9b9b9b"/><rect x="851.3" y="1565.7" width="3.16" height="2.95" fill="#989898"/><rect x="854.4" y="1565.7" width="3.16" height="2.95" fill="#979797"/><rect x="857.5" y="1565.7" width="3.16" height="2.95" fill="#9a9a9a"/><rect x="860.6" y="1565.7" width="3.16" height="2.95" fill="#8c8c8c"/><rect x="863.7" y="1565.7" width="3.16" height="2.95" fill="#949494"/><rect x="866.9" y="1565.7" width="3.16" height="2.95" fill="#8c8c8c"/><rect x="870.0" y="1565.7" width="3.16" height="2.95" fill="#a1a1a1"/><rect x="873.1" y="1565.7" width="3.16" height="2.95" fill="#898989"/><rect x="876.2" y="1565.7" width="3.16" height="2.95" fill="#9e9e9e"/><rect x="851.3" y="1568.6" width="3.16" height="2.95" fill="#8a8a8a"/><rect x="854.4" y="1568.6" width="3.16" height="2.95" fill="#9b9b9b"/><rect x="857.5" y="1568.6" width="3.16" height="2.95" fill="#919191"/><rect x="860.6" y="1568.6" width="3.16" height="2.95" fill="#939393"/><rect x="863.7" y="1568.6" width="3.16" height="2.95" fill="#9f9f9f"/><rect x="866.9" y="1568.6" width="3.16" height="2.95" fill="#888888"/><rect x="870.0" y="1568.6" width="3.16" height="2.95" fill="#898989"/><rect x="873.1" y="1568.6" width="3.16" height="2.95" fill="#a1a1a1"/><rect x="876.2" y="1568.6" width="3.16" height="2.95" fill="#969696"/><rect x="851.3" y="1571.5" width="3.16" height="2.95" fill="#8a8a8a"/><rect x="854.4" y="1571.5" width="3.16" height="2.95" fill="#a3a3a3"/><rect x="857.5" y="1571.5" width="3.16" height="2.95" fill="#a2a2a2"/><rect x="860.6" y="1571.5" width="3.16" height="2.95" fill="#8b8b8b"/><rect x="863.7" y="1571.5" width="3.16" height="2.95" fill="#939393"/><rect x="866.9" y="1571.5" width="3.16" height="2.95" fill="#8b8b8b"/><rect x="870.0" y="1571.5" width="3.16" height="2.95" fill="#909090"/><rect x="873.1" y="1571.5" width="3.16" height="2.95" fill="#999999"/><rect x="876.2" y="1571.5" width="3.16" height="2.95" fill="#8c8c8c"/><rect x="851.3" y="1574.4" width="3.16" height="2.95" fill="#9b9b9b"/><rect x="854.4" y="1574.4" width="3.16" height="2.95" fill="#898989"/><rect x="857.5" y="1574.4" width="3.16" height="2.95" fill="#8c8c8c"/><rect x="860.6" y="1574.4" width="3.16" height="2.95" fill="#9e9e9e"/><rect x="863.7" y="1574.4" width="3.16" height="2.95" fill="#939393"/><rect x="866.9" y="1574.4" width="3.16" height="2.95" fill="#939393"/><rect x="870.0" y="1574.4" width="3.16" height="2.95" fill="#989898"/><rect x="873.1" y="1574.4" width="3.16" height="2.95" fill="#959595"/><rect x="876.2" y="1574.4" width="3.16" height="2.95" fill="#929292"/><rect x="851.3" y="1577.3" width="3.16" height="2.95" fill="#888888"/><rect x="854.4" y="1577.3" width="3.16" height="2.95" fill="#9c9c9c"/><rect x="857.5" y="1577.3" width="3.16" height="2.95" fill="#a3a3a3"/><rect x="860.6" y="1577.3" width="3.16" height="2.95" fill="#a3a3a3"/><rect x="863.7" y="1577.3" width="3.16" height="2.95" fill="#9a9a9a"/><rect x="866.9" y="1577.3" width="3.16" height="2.95" fill="#919191"/><rect x="870.0" y="1577.3" width="3.16" height="2.95" fill="#929292"/><rect x="873.1" y="1577.3" width="3.16" height="2.95" fill="#9b9b9b"/><rect x="876.2" y="1577.3" width="3.16" height="2.95" fill="#9a9a9a"/><rect x="851.3" y="1580.2" width="3.16" height="2.95" fill="#8b8b8b"/><rect x="854.4" y="1580.2" width="3.16" height="2.95" fill="#8e8e8e"/><rect x="857.5" y="1580.2" width="3.16" height="2.95" fill="#929292"/><rect x="860.6" y="1580.2" width="3.16" height="2.95" fill="#969696"/><rect x="863.7" y="1580.2" width="3.16" height="2.95" fill="#9e9e9e"/><rect x="866.9" y="1580.2" width="3.16" height="2.95" fill="#969696"/><rect x="870.0" y="1580.2" width="3.16" height="2.95" fill="#888888"/><rect x="873.1" y="1580.2" width="3.16" height="2.95" fill="#9f9f9f"/><rect x="876.2" y="1580.2" width="3.16" height="2.95" fill="#949494"/><rect x="851.3" y="1583.1" width="3.16" height="2.95" fill="#969696"/><rect x="854.4" y="1583.1" width="3.16" height="2.95" fill="#8e8e8e"/><rect x="857.5" y="1583.1" width="3.16" height="2.95" fill="#939393"/><rect x="860.6" y="1583.1" width="3.16" height="2.95" fill="#929292"/><rect x="863.7" y="1583.1" width="3.16" height="2.95" fill="#9d9d9d"/><rect x="866.9" y="1583.1" width="3.16" height="2.95" fill="#8a8a8a"/><rect x="870.0" y="1583.1" width="3.16" height="2.95" fill="#979797"/><rect x="873.1" y="1583.1" width="3.16" height="2.95" fill="#8c8c8c"/><rect x="876.2" y="1583.1" width="3.16" height="2.95" fill="#9b9b9b"/><rect x="851.3" y="1586.0" width="3.16" height="2.95" fill="#898989"/><rect x="854.4" y="1586.0" width="3.16" height="2.95" fill="#8f8f8f"/><rect x="857.5" y="1586.0" width="3.16" height="2.95" fill="#919191"/><rect x="860.6" y="1586.0" width="3.16" height="2.95" fill="#999999"/><rect x="863.7" y="1586.0" width="3.16" height="2.95" fill="#898989"/><rect x="866.9" y="1586.0" width="3.16" height="2.95" fill="#949494"/><rect x="870.0" y="1586.0" width="3.16" height="2.95" fill="#8d8d8d"/><rect x="873.1" y="1586.0" width="3.16" height="2.95" fill="#8f8f8f"/><rect x="876.2" y="1586.0" width="3.16" height="2.95" fill="#959595"/><rect x="851.3" y="1588.9" width="3.16" height="2.95" fill="#a2a2a2"/><rect x="854.4" y="1588.9" width="3.16" height="2.95" fill="#959595"/><rect x="857.5" y="1588.9" width="3.16" height="2.95" fill="#a2a2a2"/><rect x="860.6" y="1588.9" width="3.16" height="2.95" fill="#8c8c8c"/><rect x="863.7" y="1588.9" width="3.16" height="2.95" fill="#a1a1a1"/><rect x="866.9" y="1588.9" width="3.16" height="2.95" fill="#929292"/><rect x="870.0" y="1588.9" width="3.16" height="2.95" fill="#8d8d8d"/><rect x="873.1" y="1588.9" width="3.16" height="2.95" fill="#9c9c9c"/><rect x="876.2" y="1588.9" width="3.16" height="2.95" fill="#a1a1a1"/></g><rect x="851.3" y="1562.8" width="28" height="29" fill="none" stroke="#6f6f6f" stroke-width="1.3" stroke-dasharray="3 2"/>
<g fill="#000"><rect x="763.5" y="1495.0" width="5.4" height="5.4"/><rect x="775.2" y="1495.0" width="5.4" height="5.4"/><rect x="787.0" y="1495.0" width="5.4" height="5.4"/><rect x="798.7" y="1495.0" width="5.4" height="5.4"/><rect x="810.4" y="1495.0" width="5.4" height="5.4"/><rect x="822.2" y="1495.0" width="5.4" height="5.4"/><rect x="833.9" y="1495.0" width="5.4" height="5.4"/><rect x="845.6" y="1495.0" width="5.4" height="5.4"/><rect x="857.4" y="1495.0" width="5.4" height="5.4"/><rect x="869.1" y="1495.0" width="5.4" height="5.4"/><rect x="880.8" y="1495.0" width="5.4" height="5.4"/><rect x="892.6" y="1495.0" width="5.4" height="5.4"/><rect x="904.3" y="1495.0" width="5.4" height="5.4"/><rect x="763.5" y="1651.3" width="5.4" height="5.4"/><rect x="775.2" y="1651.3" width="5.4" height="5.4"/><rect x="787.0" y="1651.3" width="5.4" height="5.4"/><rect x="798.7" y="1651.3" width="5.4" height="5.4"/><rect x="810.4" y="1651.3" width="5.4" height="5.4"/><rect x="822.2" y="1651.3" width="5.4" height="5.4"/><rect x="833.9" y="1651.3" width="5.4" height="5.4"/><rect x="845.6" y="1651.3" width="5.4" height="5.4"/><rect x="857.4" y="1651.3" width="5.4" height="5.4"/><rect x="869.1" y="1651.3" width="5.4" height="5.4"/><rect x="880.8" y="1651.3" width="5.4" height="5.4"/><rect x="892.6" y="1651.3" width="5.4" height="5.4"/><rect x="904.3" y="1651.3" width="5.4" height="5.4"/><rect x="763.5" y="1507.0" width="5.4" height="5.4"/><rect x="763.5" y="1519.0" width="5.4" height="5.4"/><rect x="763.5" y="1531.1" width="5.4" height="5.4"/><rect x="763.5" y="1543.1" width="5.4" height="5.4"/><rect x="763.5" y="1555.1" width="5.4" height="5.4"/><rect x="763.5" y="1567.1" width="5.4" height="5.4"/><rect x="763.5" y="1579.2" width="5.4" height="5.4"/><rect x="763.5" y="1591.2" width="5.4" height="5.4"/><rect x="763.5" y="1603.2" width="5.4" height="5.4"/><rect x="763.5" y="1615.2" width="5.4" height="5.4"/><rect x="763.5" y="1627.3" width="5.4" height="5.4"/><rect x="763.5" y="1639.3" width="5.4" height="5.4"/><rect x="904.3" y="1507.0" width="5.4" height="5.4"/><rect x="904.3" y="1519.0" width="5.4" height="5.4"/><rect x="904.3" y="1531.1" width="5.4" height="5.4"/><rect x="904.3" y="1543.1" width="5.4" height="5.4"/><rect x="904.3" y="1555.1" width="5.4" height="5.4"/><rect x="904.3" y="1567.1" width="5.4" height="5.4"/><rect x="904.3" y="1579.2" width="5.4" height="5.4"/><rect x="904.3" y="1591.2" width="5.4" height="5.4"/><rect x="904.3" y="1603.2" width="5.4" height="5.4"/><rect x="904.3" y="1615.2" width="5.4" height="5.4"/><rect x="904.3" y="1627.3" width="5.4" height="5.4"/><rect x="904.3" y="1639.3" width="5.4" height="5.4"/></g>
<clipPath id="rclipc"><rect x="143.0" y="1007.3" width="801.8" height="686.1"/></clipPath>
<path clip-path="url(#rclipc)" d="M139.3,1635.8 C139.9,1635.0 140.4,1634.4 143.0,1631.1 C145.6,1627.8 150.9,1621.6 155.1,1615.8 C159.3,1610.0 163.8,1603.0 168.2,1596.0 C172.6,1589.0 177.4,1581.8 181.4,1574.1 C185.4,1566.4 188.8,1558.0 192.4,1550.0 C196.1,1542.0 199.3,1535.4 203.3,1525.9 C207.3,1516.4 212.1,1503.6 216.5,1493.0 C220.9,1482.4 225.4,1472.5 229.6,1462.3 C233.8,1452.1 238.0,1440.6 241.7,1431.6 C245.4,1422.5 248.4,1415.3 252.0,1408.0 C255.6,1400.7 259.2,1394.0 263.0,1388.0 C266.8,1382.0 271.0,1376.5 275.0,1372.0 C279.0,1367.5 283.0,1363.8 287.0,1361.0 C291.0,1358.2 295.0,1356.0 299.0,1355.0 C303.0,1354.0 307.2,1354.2 311.0,1355.0 C314.8,1355.8 318.2,1357.3 322.0,1360.0 C325.8,1362.7 329.8,1366.7 334.0,1371.0 C338.2,1375.3 342.5,1380.5 347.0,1386.0 C351.5,1391.5 356.3,1398.2 361.0,1404.0 C365.7,1409.8 370.3,1415.5 375.0,1421.0 C379.7,1426.5 383.7,1430.7 389.0,1437.0 C394.3,1443.3 400.1,1450.1 406.9,1458.9 C413.7,1467.7 422.5,1479.8 430.0,1490.0 C437.5,1500.2 445.2,1511.6 451.9,1519.8 C458.6,1528.0 463.7,1533.2 470.0,1539.0 C476.3,1544.8 483.1,1551.1 489.8,1554.7 C496.5,1558.3 503.3,1559.5 510.0,1560.5 C516.7,1561.5 523.2,1561.8 530.0,1561.0 C536.8,1560.2 543.6,1558.5 550.7,1556.0 C557.8,1553.5 565.6,1550.0 572.7,1546.3 C579.8,1542.6 586.3,1538.7 593.4,1534.0 C600.5,1529.3 608.3,1524.2 615.4,1518.4 C622.5,1512.6 629.7,1505.7 636.2,1499.0 C642.7,1492.3 647.0,1486.3 654.3,1478.3 C661.6,1470.3 671.3,1459.8 680.2,1451.1 C689.1,1442.4 698.6,1434.1 707.9,1426.0 C717.2,1417.9 726.5,1410.0 735.8,1402.3 C745.1,1394.6 754.4,1386.5 763.7,1380.0 C773.0,1373.5 782.3,1367.6 791.6,1363.2 C800.9,1358.8 810.2,1355.8 819.5,1353.5 C828.8,1351.2 840.4,1349.9 847.4,1349.3 C854.4,1348.7 855.6,1349.3 861.4,1350.0 C867.2,1350.7 875.3,1351.8 882.3,1353.5 C889.3,1355.2 896.2,1358.0 903.2,1360.5 C910.2,1363.0 917.2,1366.1 924.1,1368.8 C931.0,1371.5 940.4,1375.1 944.8,1376.8 C949.2,1378.5 949.5,1378.6 950.4,1379.0" fill="none" stroke="#ff0000" stroke-width="8.0" stroke-linejoin="round"/>
<g fill="#fff" stroke="#7a7a7a" stroke-width="4.2"><circle cx="136.4" cy="1563.1" r="10.9"/><circle cx="143.8" cy="1560.2" r="10.9"/><circle cx="151.4" cy="1519.9" r="10.9"/><circle cx="159.1" cy="1528.5" r="10.9"/><circle cx="167.0" cy="1507.6" r="10.9"/><circle cx="175.1" cy="1486.0" r="10.9"/><circle cx="183.3" cy="1468.7" r="10.9"/><circle cx="191.6" cy="1450.7" r="10.9"/><circle cx="200.1" cy="1434.8" r="10.9"/><circle cx="208.8" cy="1426.1" r="10.9"/><circle cx="217.7" cy="1416.0" r="10.9"/><circle cx="226.8" cy="1407.4" r="10.9"/><circle cx="236.0" cy="1404.5" r="10.9"/><circle cx="245.4" cy="1408.1" r="10.9"/><circle cx="255.1" cy="1397.5" r="10.9"/><circle cx="264.9" cy="1382.6" r="10.9"/><circle cx="275.0" cy="1365.1" r="10.9"/><circle cx="285.3" cy="1367.6" r="10.9"/><circle cx="295.8" cy="1349.1" r="10.9"/><circle cx="306.5" cy="1351.0" r="10.9"/><circle cx="317.5" cy="1359.3" r="10.9"/><circle cx="328.8" cy="1368.3" r="10.9"/><circle cx="340.3" cy="1364.4" r="10.9"/><circle cx="352.1" cy="1376.6" r="10.9"/><circle cx="364.1" cy="1390.6" r="10.9"/><circle cx="376.5" cy="1405.3" r="10.9"/><circle cx="389.1" cy="1420.8" r="10.9"/><circle cx="402.1" cy="1444.0" r="10.9"/><circle cx="415.4" cy="1472.9" r="10.9"/><circle cx="429.0" cy="1487.1" r="10.9"/><circle cx="443.0" cy="1502.5" r="10.9"/><circle cx="457.4" cy="1536.9" r="10.9"/><circle cx="472.1" cy="1542.5" r="10.9"/><circle cx="487.2" cy="1541.8" r="10.9"/><circle cx="502.7" cy="1563.1" r="10.9"/><circle cx="518.7" cy="1574.5" r="10.9"/><circle cx="535.1" cy="1577.4" r="10.9"/><circle cx="552.0" cy="1573.5" r="10.9"/><circle cx="569.3" cy="1562.5" r="10.9"/><circle cx="587.2" cy="1546.9" r="10.9"/><circle cx="605.5" cy="1527.5" r="10.9"/><circle cx="624.5" cy="1504.8" r="10.9"/><circle cx="644.0" cy="1477.6" r="10.9"/><circle cx="664.1" cy="1450.4" r="10.9"/><circle cx="684.8" cy="1427.3" r="10.9"/><circle cx="706.2" cy="1407.2" r="10.9"/><circle cx="728.3" cy="1390.5" r="10.9"/><circle cx="751.1" cy="1377.2" r="10.9"/><circle cx="774.7" cy="1368.1" r="10.9"/><circle cx="799.1" cy="1369.5" r="10.9"/><circle cx="824.3" cy="1378.6" r="10.9"/><circle cx="850.4" cy="1393.9" r="10.9"/><circle cx="877.5" cy="1418.4" r="10.9"/><circle cx="905.5" cy="1451.1" r="10.9"/><circle cx="934.6" cy="1482.5" r="10.9"/></g>
<rect x="701.9" y="1033.6" width="229.7" height="97.2" fill="#fff" stroke="#8a8a8a" stroke-width="1.4"/>
<path d="M707.6,1061.0H781.9" stroke="#ff0000" stroke-width="8" stroke-linecap="round"/>
<circle cx="744.1" cy="1106.8" r="10.4" fill="#fff" stroke="#7a7a7a" stroke-width="4.2"/>
<text x="791.1" y="1072.5" font-size="37.11" font-weight="bold" text-anchor="start">Desired</text>
<text x="791.9" y="1118.4" font-size="37.11" font-weight="bold" text-anchor="start">SNN</text>
<text x="17.4" y="957.3" font-size="51" font-weight="normal">c</text><text x="45.8" y="957.3" font-size="51" font-weight="normal">)</text>
<rect x="1171.8" y="1032.3" width="801.0" height="645.6" fill="none" stroke="#000" stroke-width="4.6"/>
<path d="M1159.8,1677.9H1171.8M1159.8,1548.8H1171.8M1159.8,1419.7H1171.8M1159.8,1290.5H1171.8M1159.8,1161.4H1171.8M1159.8,1032.3H1171.8M1171.8,1677.9V1689.9M1372.0,1677.9V1689.9M1572.3,1677.9V1689.9M1772.5,1677.9V1689.9M1972.8,1677.9V1689.9" stroke="#000" stroke-width="4.6" fill="none"/>
<text transform="translate(1150.0,1688.9) scale(1,1.045)" font-size="36.37" font-weight="bold" text-anchor="end">0</text>
<text transform="translate(1150.0,1559.8) scale(1,1.045)" font-size="36.37" font-weight="bold" text-anchor="end">20</text>
<text transform="translate(1150.0,1430.7) scale(1,1.045)" font-size="36.37" font-weight="bold" text-anchor="end">40</text>
<text transform="translate(1150.0,1301.5) scale(1,1.045)" font-size="36.37" font-weight="bold" text-anchor="end">60</text>
<text transform="translate(1150.0,1172.4) scale(1,1.045)" font-size="36.37" font-weight="bold" text-anchor="end">80</text>
<text transform="translate(1150.0,1043.3) scale(1,1.045)" font-size="36.37" font-weight="bold" text-anchor="end">100</text>
<text transform="translate(1171.8,1728.3) scale(1,1.045)" font-size="36.37" font-weight="bold" text-anchor="middle">400</text>
<text transform="translate(1372.0,1728.3) scale(1,1.045)" font-size="36.37" font-weight="bold" text-anchor="middle">500</text>
<text transform="translate(1572.3,1728.3) scale(1,1.045)" font-size="36.37" font-weight="bold" text-anchor="middle">600</text>
<text transform="translate(1772.5,1728.3) scale(1,1.045)" font-size="36.37" font-weight="bold" text-anchor="middle">700</text>
<text transform="translate(1972.8,1728.3) scale(1,1.045)" font-size="36.37" font-weight="bold" text-anchor="middle">800</text>
<text transform="translate(1428.6,1789.3) scale(1,1.027)" font-size="36.92" font-weight="bold" text-anchor="start">Wavelength(nm)</text>
<text transform="translate(1074.4,1576.6) rotate(-90) scale(1,1.050)" font-size="36.67" font-weight="bold">Conversion Efficiency(%)</text>
<rect x="1840.4" y="1533.6" width="22.6" height="92.8" fill="#8a8a8a"/><g shape-rendering="crispEdges"><rect x="1840.4" y="1533.6" width="2.88" height="3.04" fill="#808080"/><rect x="1843.2" y="1533.6" width="2.88" height="3.04" fill="#8f8f8f"/><rect x="1846.1" y="1533.6" width="2.88" height="3.04" fill="#8d8d8d"/><rect x="1848.9" y="1533.6" width="2.88" height="3.04" fill="#898989"/><rect x="1851.7" y="1533.6" width="2.88" height="3.04" fill="#828282"/><rect x="1854.5" y="1533.6" width="2.88" height="3.04" fill="#929292"/><rect x="1857.4" y="1533.6" width="2.88" height="3.04" fill="#929292"/><rect x="1860.2" y="1533.6" width="2.88" height="3.04" fill="#8a8a8a"/><rect x="1840.4" y="1536.6" width="2.88" height="3.04" fill="#8a8a8a"/><rect x="1843.2" y="1536.6" width="2.88" height="3.04" fill="#828282"/><rect x="1846.1" y="1536.6" width="2.88" height="3.04" fill="#7c7c7c"/><rect x="1848.9" y="1536.6" width="2.88" height="3.04" fill="#868686"/><rect x="1851.7" y="1536.6" width="2.88" height="3.04" fill="#8c8c8c"/><rect x="1854.5" y="1536.6" width="2.88" height="3.04" fill="#7d7d7d"/><rect x="1857.4" y="1536.6" width="2.88" height="3.04" fill="#929292"/><rect x="1860.2" y="1536.6" width="2.88" height="3.04" fill="#828282"/><rect x="1840.4" y="1539.6" width="2.88" height="3.04" fill="#828282"/><rect x="1843.2" y="1539.6" width="2.88" height="3.04" fill="#7d7d7d"/><rect x="1846.1" y="1539.6" width="2.88" height="3.04" fill="#979797"/><rect x="1848.9" y="1539.6" width="2.88" height="3.04" fill="#909090"/><rect x="1851.7" y="1539.6" width="2.88" height="3.04" fill="#949494"/><rect x="1854.5" y="1539.6" width="2.88" height="3.04" fill="#8d8d8d"/><rect x="1857.4" y="1539.6" width="2.88" height="3.04" fill="#7c7c7c"/><rect x="1860.2" y="1539.6" width="2.88" height="3.04" fill="#858585"/><rect x="1840.4" y="1542.6" width="2.88" height="3.04" fill="#898989"/><rect x="1843.2" y="1542.6" width="2.88" height="3.04" fill="#7f7f7f"/><rect x="1846.1" y="1542.6" width="2.88" height="3.04" fill="#969696"/><rect x="1848.9" y="1542.6" width="2.88" height="3.04" fill="#868686"/><rect x="1851.7" y="1542.6" width="2.88" height="3.04" fill="#808080"/><rect x="1854.5" y="1542.6" width="2.88" height="3.04" fill="#929292"/><rect x="1857.4" y="1542.6" width="2.88" height="3.04" fill="#7f7f7f"/><rect x="1860.2" y="1542.6" width="2.88" height="3.04" fill="#959595"/><rect x="1840.4" y="1545.6" width="2.88" height="3.04" fill="#888888"/><rect x="1843.2" y="1545.6" width="2.88" height="3.04" fill="#8b8b8b"/><rect x="1846.1" y="1545.6" width="2.88" height="3.04" fill="#858585"/><rect x="1848.9" y="1545.6" width="2.88" height="3.04" fill="#898989"/><rect x="1851.7" y="1545.6" width="2.88" height="3.04" fill="#818181"/><rect x="1854.5" y="1545.6" width="2.88" height="3.04" fill="#7d7d7d"/><rect x="1857.4" y="1545.6" width="2.88" height="3.04" fill="#949494"/><rect x="1860.2" y="1545.6" width="2.88" height="3.04" fill="#828282"/><rect x="1840.4" y="1548.6" width="2.88" height="3.04" fill="#919191"/><rect x="1843.2" y="1548.6" width="2.88" height="3.04" fill="#818181"/><rect x="1846.1" y="1548.6" width="2.88" height="3.04" fill="#979797"/><rect x="1848.9" y="1548.6" width="2.88" height="3.04" fill="#959595"/><rect x="1851.7" y="1548.6" width="2.88" height="3.04" fill="#919191"/><rect x="1854.5" y="1548.6" width="2.88" height="3.04" fill="#919191"/><rect x="1857.4" y="1548.6" width="2.88" height="3.04" fill="#8c8c8c"/><rect x="1860.2" y="1548.6" width="2.88" height="3.04" fill="#909090"/><rect x="1840.4" y="1551.6" width="2.88" height="3.04" fill="#7f7f7f"/><rect x="1843.2" y="1551.6" width="2.88" height="3.04" fill="#898989"/><rect x="1846.1" y="1551.6" width="2.88" height="3.04" fill="#939393"/><rect x="1848.9" y="1551.6" width="2.88" height="3.04" fill="#818181"/><rect x="1851.7" y="1551.6" width="2.88" height="3.04" fill="#959595"/><rect x="1854.5" y="1551.6" width="2.88" height="3.04" fill="#949494"/><rect x="1857.4" y="1551.6" width="2.88" height="3.04" fill="#878787"/><rect x="1860.2" y="1551.6" width="2.88" height="3.04" fill="#868686"/><rect x="1840.4" y="1554.6" width="2.88" height="3.04" fill="#888888"/><rect x="1843.2" y="1554.6" width="2.88" height="3.04" fill="#868686"/><rect x="1846.1" y="1554.6" width="2.88" height="3.04" fill="#979797"/><rect x="1848.9" y="1554.6" width="2.88" height="3.04" fill="#868686"/><rect x="1851.7" y="1554.6" width="2.88" height="3.04" fill="#7c7c7c"/><rect x="1854.5" y="1554.6" width="2.88" height="3.04" fill="#7e7e7e"/><rect x="1857.4" y="1554.6" width="2.88" height="3.04" fill="#909090"/><rect x="1860.2" y="1554.6" width="2.88" height="3.04" fill="#979797"/><rect x="1840.4" y="1557.5" width="2.88" height="3.04" fill="#898989"/><rect x="1843.2" y="1557.5" width="2.88" height="3.04" fill="#898989"/><rect x="1846.1" y="1557.5" width="2.88" height="3.04" fill="#8b8b8b"/><rect x="1848.9" y="1557.5" width="2.88" height="3.04" fill="#909090"/><rect x="1851.7" y="1557.5" width="2.88" height="3.04" fill="#828282"/><rect x="1854.5" y="1557.5" width="2.88" height="3.04" fill="#8d8d8d"/><rect x="1857.4" y="1557.5" width="2.88" height="3.04" fill="#8b8b8b"/><rect x="1860.2" y="1557.5" width="2.88" height="3.04" fill="#8d8d8d"/><rect x="1840.4" y="1560.5" width="2.88" height="3.04" fill="#818181"/><rect x="1843.2" y="1560.5" width="2.88" height="3.04" fill="#808080"/><rect x="1846.1" y="1560.5" width="2.88" height="3.04" fill="#858585"/><rect x="1848.9" y="1560.5" width="2.88" height="3.04" fill="#959595"/><rect x="1851.7" y="1560.5" width="2.88" height="3.04" fill="#858585"/><rect x="1854.5" y="1560.5" width="2.88" height="3.04" fill="#8c8c8c"/><rect x="1857.4" y="1560.5" width="2.88" height="3.04" fill="#848484"/><rect x="1860.2" y="1560.5" width="2.88" height="3.04" fill="#7e7e7e"/><rect x="1840.4" y="1563.5" width="2.88" height="3.04" fill="#7d7d7d"/><rect x="1843.2" y="1563.5" width="2.88" height="3.04" fill="#929292"/><rect x="1846.1" y="1563.5" width="2.88" height="3.04" fill="#919191"/><rect x="1848.9" y="1563.5" width="2.88" height="3.04" fill="#868686"/><rect x="1851.7" y="1563.5" width="2.88" height="3.04" fill="#8f8f8f"/><rect x="1854.5" y="1563.5" width="2.88" height="3.04" fill="#8e8e8e"/><rect x="1857.4" y="1563.5" width="2.88" height="3.04" fill="#959595"/><rect x="1860.2" y="1563.5" width="2.88" height="3.04" fill="#969696"/><rect x="1840.4" y="1566.5" width="2.88" height="3.04" fill="#878787"/><rect x="1843.2" y="1566.5" width="2.88" height="3.04" fill="#979797"/><rect x="1846.1" y="1566.5" width="2.88" height="3.04" fill="#969696"/><rect x="1848.9" y="1566.5" width="2.88" height="3.04" fill="#8c8c8c"/><rect x="1851.7" y="1566.5" width="2.88" height="3.04" fill="#949494"/><rect x="1854.5" y="1566.5" width="2.88" height="3.04" fill="#898989"/><rect x="1857.4" y="1566.5" width="2.88" height="3.04" fill="#868686"/><rect x="1860.2" y="1566.5" width="2.88" height="3.04" fill="#828282"/><rect x="1840.4" y="1569.5" width="2.88" height="3.04" fill="#949494"/><rect x="1843.2" y="1569.5" width="2.88" height="3.04" fill="#808080"/><rect x="1846.1" y="1569.5" width="2.88" height="3.04" fill="#7d7d7d"/><rect x="1848.9" y="1569.5" width="2.88" height="3.04" fill="#929292"/><rect x="1851.7" y="1569.5" width="2.88" height="3.04" fill="#919191"/><rect x="1854.5" y="1569.5" width="2.88" height="3.04" fill="#898989"/><rect x="1857.4" y="1569.5" width="2.88" height="3.04" fill="#939393"/><rect x="1860.2" y="1569.5" width="2.88" height="3.04" fill="#7d7d7d"/><rect x="1840.4" y="1572.5" width="2.88" height="3.04" fill="#838383"/><rect x="1843.2" y="1572.5" width="2.88" height="3.04" fill="#848484"/><rect x="1846.1" y="1572.5" width="2.88" height="3.04" fill="#878787"/><rect x="1848.9" y="1572.5" width="2.88" height="3.04" fill="#808080"/><rect x="1851.7" y="1572.5" width="2.88" height="3.04" fill="#7d7d7d"/><rect x="1854.5" y="1572.5" width="2.88" height="3.04" fill="#858585"/><rect x="1857.4" y="1572.5" width="2.88" height="3.04" fill="#959595"/><rect x="1860.2" y="1572.5" width="2.88" height="3.04" fill="#979797"/><rect x="1840.4" y="1575.5" width="2.88" height="3.04" fill="#909090"/><rect x="1843.2" y="1575.5" width="2.88" height="3.04" fill="#898989"/><rect x="1846.1" y="1575.5" width="2.88" height="3.04" fill="#838383"/><rect x="1848.9" y="1575.5" width="2.88" height="3.04" fill="#969696"/><rect x="1851.7" y="1575.5" width="2.88" height="3.04" fill="#8a8a8a"/><rect x="1854.5" y="1575.5" width="2.88" height="3.04" fill="#909090"/><rect x="1857.4" y="1575.5" width="2.88" height="3.04" fill="#7c7c7c"/><rect x="1860.2" y="1575.5" width="2.88" height="3.04" fill="#818181"/><rect x="1840.4" y="1578.5" width="2.88" height="3.04" fill="#939393"/><rect x="1843.2" y="1578.5" width="2.88" height="3.04" fill="#929292"/><rect x="1846.1" y="1578.5" width="2.88" height="3.04" fill="#949494"/><rect x="1848.9" y="1578.5" width="2.88" height="3.04" fill="#8c8c8c"/><rect x="1851.7" y="1578.5" width="2.88" height="3.04" fill="#878787"/><rect x="1854.5" y="1578.5" width="2.88" height="3.04" fill="#8c8c8c"/><rect x="1857.4" y="1578.5" width="2.88" height="3.04" fill="#939393"/><rect x="1860.2" y="1578.5" width="2.88" height="3.04" fill="#848484"/><rect x="1840.4" y="1581.5" width="2.88" height="3.04" fill="#8a8a8a"/><rect x="1843.2" y="1581.5" width="2.88" height="3.04" fill="#838383"/><rect x="1846.1" y="1581.5" width="2.88" height="3.04" fill="#919191"/><rect x="1848.9" y="1581.5" width="2.88" height="3.04" fill="#7c7c7c"/><rect x="1851.7" y="1581.5" width="2.88" height="3.04" fill="#8f8f8f"/><rect x="1854.5" y="1581.5" width="2.88" height="3.04" fill="#969696"/><rect x="1857.4" y="1581.5" width="2.88" height="3.04" fill="#7c7c7c"/><rect x="1860.2" y="1581.5" width="2.88" height="3.04" fill="#8c8c8c"/><rect x="1840.4" y="1584.5" width="2.88" height="3.04" fill="#8e8e8e"/><rect x="1843.2" y="1584.5" width="2.88" height="3.04" fill="#939393"/><rect x="1846.1" y="1584.5" width="2.88" height="3.04" fill="#8c8c8c"/><rect x="1848.9" y="1584.5" width="2.88" height="3.04" fill="#838383"/><rect x="1851.7" y="1584.5" width="2.88" height="3.04" fill="#878787"/><rect x="1854.5" y="1584.5" width="2.88" height="3.04" fill="#969696"/><rect x="1857.4" y="1584.5" width="2.88" height="3.04" fill="#959595"/><rect x="1860.2" y="1584.5" width="2.88" height="3.04" fill="#7f7f7f"/><rect x="1840.4" y="1587.5" width="2.88" height="3.04" fill="#7e7e7e"/><rect x="1843.2" y="1587.5" width="2.88" height="3.04" fill="#7e7e7e"/><rect x="1846.1" y="1587.5" width="2.88" height="3.04" fill="#7c7c7c"/><rect x="1848.9" y="1587.5" width="2.88" height="3.04" fill="#888888"/><rect x="1851.7" y="1587.5" width="2.88" height="3.04" fill="#7f7f7f"/><rect x="1854.5" y="1587.5" width="2.88" height="3.04" fill="#949494"/><rect x="1857.4" y="1587.5" width="2.88" height="3.04" fill="#8e8e8e"/><rect x="1860.2" y="1587.5" width="2.88" height="3.04" fill="#7f7f7f"/><rect x="1840.4" y="1590.5" width="2.88" height="3.04" fill="#8b8b8b"/><rect x="1843.2" y="1590.5" width="2.88" height="3.04" fill="#858585"/><rect x="1846.1" y="1590.5" width="2.88" height="3.04" fill="#898989"/><rect x="1848.9" y="1590.5" width="2.88" height="3.04" fill="#828282"/><rect x="1851.7" y="1590.5" width="2.88" height="3.04" fill="#808080"/><rect x="1854.5" y="1590.5" width="2.88" height="3.04" fill="#818181"/><rect x="1857.4" y="1590.5" width="2.88" height="3.04" fill="#868686"/><rect x="1860.2" y="1590.5" width="2.88" height="3.04" fill="#8f8f8f"/><rect x="1840.4" y="1593.5" width="2.88" height="3.04" fill="#8b8b8b"/><rect x="1843.2" y="1593.5" width="2.88" height="3.04" fill="#7d7d7d"/><rect x="1846.1" y="1593.5" width="2.88" height="3.04" fill="#8f8f8f"/><rect x="1848.9" y="1593.5" width="2.88" height="3.04" fill="#949494"/><rect x="1851.7" y="1593.5" width="2.88" height="3.04" fill="#919191"/><rect x="1854.5" y="1593.5" width="2.88" height="3.04" fill="#929292"/><rect x="1857.4" y="1593.5" width="2.88" height="3.04" fill="#7c7c7c"/><rect x="1860.2" y="1593.5" width="2.88" height="3.04" fill="#888888"/><rect x="1840.4" y="1596.5" width="2.88" height="3.04" fill="#7d7d7d"/><rect x="1843.2" y="1596.5" width="2.88" height="3.04" fill="#919191"/><rect x="1846.1" y="1596.5" width="2.88" height="3.04" fill="#808080"/><rect x="1848.9" y="1596.5" width="2.88" height="3.04" fill="#8f8f8f"/><rect x="1851.7" y="1596.5" width="2.88" height="3.04" fill="#838383"/><rect x="1854.5" y="1596.5" width="2.88" height="3.04" fill="#8f8f8f"/><rect x="1857.4" y="1596.5" width="2.88" height="3.04" fill="#848484"/><rect x="1860.2" y="1596.5" width="2.88" height="3.04" fill="#7d7d7d"/><rect x="1840.4" y="1599.5" width="2.88" height="3.04" fill="#868686"/><rect x="1843.2" y="1599.5" width="2.88" height="3.04" fill="#848484"/><rect x="1846.1" y="1599.5" width="2.88" height="3.04" fill="#959595"/><rect x="1848.9" y="1599.5" width="2.88" height="3.04" fill="#848484"/><rect x="1851.7" y="1599.5" width="2.88" height="3.04" fill="#8a8a8a"/><rect x="1854.5" y="1599.5" width="2.88" height="3.04" fill="#8b8b8b"/><rect x="1857.4" y="1599.5" width="2.88" height="3.04" fill="#969696"/><rect x="1860.2" y="1599.5" width="2.88" height="3.04" fill="#7e7e7e"/><rect x="1840.4" y="1602.5" width="2.88" height="3.04" fill="#8c8c8c"/><rect x="1843.2" y="1602.5" width="2.88" height="3.04" fill="#8a8a8a"/><rect x="1846.1" y="1602.5" width="2.88" height="3.04" fill="#909090"/><rect x="1848.9" y="1602.5" width="2.88" height="3.04" fill="#979797"/><rect x="1851.7" y="1602.5" width="2.88" height="3.04" fill="#848484"/><rect x="1854.5" y="1602.5" width="2.88" height="3.04" fill="#8f8f8f"/><rect x="1857.4" y="1602.5" width="2.88" height="3.04" fill="#8a8a8a"/><rect x="1860.2" y="1602.5" width="2.88" height="3.04" fill="#8b8b8b"/><rect x="1840.4" y="1605.4" width="2.88" height="3.04" fill="#7d7d7d"/><rect x="1843.2" y="1605.4" width="2.88" height="3.04" fill="#929292"/><rect x="1846.1" y="1605.4" width="2.88" height="3.04" fill="#979797"/><rect x="1848.9" y="1605.4" width="2.88" height="3.04" fill="#858585"/><rect x="1851.7" y="1605.4" width="2.88" height="3.04" fill="#848484"/><rect x="1854.5" y="1605.4" width="2.88" height="3.04" fill="#979797"/><rect x="1857.4" y="1605.4" width="2.88" height="3.04" fill="#7f7f7f"/><rect x="1860.2" y="1605.4" width="2.88" height="3.04" fill="#7e7e7e"/><rect x="1840.4" y="1608.4" width="2.88" height="3.04" fill="#7e7e7e"/><rect x="1843.2" y="1608.4" width="2.88" height="3.04" fill="#929292"/><rect x="1846.1" y="1608.4" width="2.88" height="3.04" fill="#919191"/><rect x="1848.9" y="1608.4" width="2.88" height="3.04" fill="#888888"/><rect x="1851.7" y="1608.4" width="2.88" height="3.04" fill="#8d8d8d"/><rect x="1854.5" y="1608.4" width="2.88" height="3.04" fill="#7c7c7c"/><rect x="1857.4" y="1608.4" width="2.88" height="3.04" fill="#8e8e8e"/><rect x="1860.2" y="1608.4" width="2.88" height="3.04" fill="#888888"/><rect x="1840.4" y="1611.4" width="2.88" height="3.04" fill="#8a8a8a"/><rect x="1843.2" y="1611.4" width="2.88" height="3.04" fill="#868686"/><rect x="1846.1" y="1611.4" width="2.88" height="3.04" fill="#878787"/><rect x="1848.9" y="1611.4" width="2.88" height="3.04" fill="#828282"/><rect x="1851.7" y="1611.4" width="2.88" height="3.04" fill="#7d7d7d"/><rect x="1854.5" y="1611.4" width="2.88" height="3.04" fill="#888888"/><rect x="1857.4" y="1611.4" width="2.88" height="3.04" fill="#828282"/><rect x="1860.2" y="1611.4" width="2.88" height="3.04" fill="#8f8f8f"/><rect x="1840.4" y="1614.4" width="2.88" height="3.04" fill="#929292"/><rect x="1843.2" y="1614.4" width="2.88" height="3.04" fill="#909090"/><rect x="1846.1" y="1614.4" width="2.88" height="3.04" fill="#888888"/><rect x="1848.9" y="1614.4" width="2.88" height="3.04" fill="#828282"/><rect x="1851.7" y="1614.4" width="2.88" height="3.04" fill="#868686"/><rect x="1854.5" y="1614.4" width="2.88" height="3.04" fill="#898989"/><rect x="1857.4" y="1614.4" width="2.88" height="3.04" fill="#8d8d8d"/><rect x="1860.2" y="1614.4" width="2.88" height="3.04" fill="#969696"/><rect x="1840.4" y="1617.4" width="2.88" height="3.04" fill="#7e7e7e"/><rect x="1843.2" y="1617.4" width="2.88" height="3.04" fill="#898989"/><rect x="1846.1" y="1617.4" width="2.88" height="3.04" fill="#898989"/><rect x="1848.9" y="1617.4" width="2.88" height="3.04" fill="#909090"/><rect x="1851.7" y="1617.4" width="2.88" height="3.04" fill="#949494"/><rect x="1854.5" y="1617.4" width="2.88" height="3.04" fill="#919191"/><rect x="1857.4" y="1617.4" width="2.88" height="3.04" fill="#8d8d8d"/><rect x="1860.2" y="1617.4" width="2.88" height="3.04" fill="#919191"/><rect x="1840.4" y="1620.4" width="2.88" height="3.04" fill="#8e8e8e"/><rect x="1843.2" y="1620.4" width="2.88" height="3.04" fill="#949494"/><rect x="1846.1" y="1620.4" width="2.88" height="3.04" fill="#8f8f8f"/><rect x="1848.9" y="1620.4" width="2.88" height="3.04" fill="#8f8f8f"/><rect x="1851.7" y="1620.4" width="2.88" height="3.04" fill="#828282"/><rect x="1854.5" y="1620.4" width="2.88" height="3.04" fill="#959595"/><rect x="1857.4" y="1620.4" width="2.88" height="3.04" fill="#868686"/><rect x="1860.2" y="1620.4" width="2.88" height="3.04" fill="#8d8d8d"/><rect x="1840.4" y="1623.4" width="2.88" height="3.04" fill="#939393"/><rect x="1843.2" y="1623.4" width="2.88" height="3.04" fill="#969696"/><rect x="1846.1" y="1623.4" width="2.88" height="3.04" fill="#979797"/><rect x="1848.9" y="1623.4" width="2.88" height="3.04" fill="#7c7c7c"/><rect x="1851.7" y="1623.4" width="2.88" height="3.04" fill="#848484"/><rect x="1854.5" y="1623.4" width="2.88" height="3.04" fill="#848484"/><rect x="1857.4" y="1623.4" width="2.88" height="3.04" fill="#868686"/><rect x="1860.2" y="1623.4" width="2.88" height="3.04" fill="#808080"/></g><rect x="1840.4" y="1533.6" width="22.6" height="10" fill="#646464"/><rect x="1840.4" y="1543.6" width="22.6" height="8" fill="#767676"/><ellipse cx="1849.6" cy="1551.5" rx="3.4" ry="2.4" fill="#444"/><ellipse cx="1849.6" cy="1551.5" rx="1.8" ry="1.2" fill="#f4f4f4"/><circle cx="1906" cy="1582.8" r="14" fill="#8e8e8e"/><circle cx="1906" cy="1582.8" r="12" fill="#a0a0a0"/><circle cx="1904.5" cy="1549.5" r="0.9" fill="#888"/>
<g fill="#000"><rect x="1794.1" y="1500.6" width="5.4" height="5.4"/><rect x="1805.7" y="1500.6" width="5.4" height="5.4"/><rect x="1817.3" y="1500.6" width="5.4" height="5.4"/><rect x="1828.9" y="1500.6" width="5.4" height="5.4"/><rect x="1840.5" y="1500.6" width="5.4" height="5.4"/><rect x="1852.1" y="1500.6" width="5.4" height="5.4"/><rect x="1863.7" y="1500.6" width="5.4" height="5.4"/><rect x="1875.3" y="1500.6" width="5.4" height="5.4"/><rect x="1886.9" y="1500.6" width="5.4" height="5.4"/><rect x="1898.5" y="1500.6" width="5.4" height="5.4"/><rect x="1910.1" y="1500.6" width="5.4" height="5.4"/><rect x="1921.7" y="1500.6" width="5.4" height="5.4"/><rect x="1933.3" y="1500.6" width="5.4" height="5.4"/><rect x="1944.9" y="1500.6" width="5.4" height="5.4"/><rect x="1794.1" y="1659.6" width="5.4" height="5.4"/><rect x="1805.7" y="1659.6" width="5.4" height="5.4"/><rect x="1817.3" y="1659.6" width="5.4" height="5.4"/><rect x="1828.9" y="1659.6" width="5.4" height="5.4"/><rect x="1840.5" y="1659.6" width="5.4" height="5.4"/><rect x="1852.1" y="1659.6" width="5.4" height="5.4"/><rect x="1863.7" y="1659.6" width="5.4" height="5.4"/><rect x="1875.3" y="1659.6" width="5.4" height="5.4"/><rect x="1886.9" y="1659.6" width="5.4" height="5.4"/><rect x="1898.5" y="1659.6" width="5.4" height="5.4"/><rect x="1910.1" y="1659.6" width="5.4" height="5.4"/><rect x="1921.7" y="1659.6" width="5.4" height="5.4"/><rect x="1933.3" y="1659.6" width="5.4" height="5.4"/><rect x="1944.9" y="1659.6" width="5.4" height="5.4"/><rect x="1794.1" y="1512.0" width="5.4" height="5.4"/><rect x="1794.1" y="1523.3" width="5.4" height="5.4"/><rect x="1794.1" y="1534.7" width="5.4" height="5.4"/><rect x="1794.1" y="1546.0" width="5.4" height="5.4"/><rect x="1794.1" y="1557.4" width="5.4" height="5.4"/><rect x="1794.1" y="1568.7" width="5.4" height="5.4"/><rect x="1794.1" y="1580.1" width="5.4" height="5.4"/><rect x="1794.1" y="1591.5" width="5.4" height="5.4"/><rect x="1794.1" y="1602.8" width="5.4" height="5.4"/><rect x="1794.1" y="1614.2" width="5.4" height="5.4"/><rect x="1794.1" y="1625.5" width="5.4" height="5.4"/><rect x="1794.1" y="1636.9" width="5.4" height="5.4"/><rect x="1794.1" y="1648.2" width="5.4" height="5.4"/><rect x="1944.9" y="1512.0" width="5.4" height="5.4"/><rect x="1944.9" y="1523.3" width="5.4" height="5.4"/><rect x="1944.9" y="1534.7" width="5.4" height="5.4"/><rect x="1944.9" y="1546.0" width="5.4" height="5.4"/><rect x="1944.9" y="1557.4" width="5.4" height="5.4"/><rect x="1944.9" y="1568.7" width="5.4" height="5.4"/><rect x="1944.9" y="1580.1" width="5.4" height="5.4"/><rect x="1944.9" y="1591.5" width="5.4" height="5.4"/><rect x="1944.9" y="1602.8" width="5.4" height="5.4"/><rect x="1944.9" y="1614.2" width="5.4" height="5.4"/><rect x="1944.9" y="1625.5" width="5.4" height="5.4"/><rect x="1944.9" y="1636.9" width="5.4" height="5.4"/><rect x="1944.9" y="1648.2" width="5.4" height="5.4"/></g>
<clipPath id="rclipd"><rect x="1171.8" y="1012.3" width="801.0" height="685.6"/></clipPath>
<path clip-path="url(#rclipd)" d="M1169.4,1381.5 C1169.8,1380.6 1170.0,1380.1 1171.8,1376.0 C1173.6,1371.9 1177.3,1363.7 1180.0,1357.0 C1182.7,1350.3 1185.3,1342.5 1188.0,1336.0 C1190.7,1329.5 1193.1,1324.6 1196.1,1318.3 C1199.1,1312.0 1202.4,1305.2 1206.1,1298.4 C1209.8,1291.6 1214.3,1283.6 1218.5,1277.2 C1222.7,1270.8 1226.8,1264.8 1231.0,1259.8 C1235.2,1254.8 1239.2,1250.4 1243.4,1247.3 C1247.6,1244.2 1251.8,1242.3 1255.9,1241.1 C1260.1,1239.9 1264.1,1239.6 1268.3,1239.9 C1272.5,1240.2 1276.6,1241.1 1281.0,1243.0 C1285.4,1244.9 1289.3,1247.5 1294.5,1251.1 C1299.7,1254.7 1305.9,1259.6 1311.9,1264.8 C1317.9,1270.0 1324.4,1276.0 1330.6,1282.2 C1336.8,1288.4 1343.1,1295.9 1349.3,1302.1 C1355.5,1308.3 1361.8,1314.4 1368.0,1319.6 C1374.2,1324.8 1381.5,1329.8 1386.7,1333.3 C1391.9,1336.8 1394.0,1338.1 1399.4,1340.6 C1404.8,1343.1 1411.3,1346.4 1418.9,1348.2 C1426.5,1350.0 1436.2,1351.9 1444.8,1351.6 C1453.4,1351.3 1462.1,1349.0 1470.7,1346.6 C1479.3,1344.2 1488.0,1340.8 1496.6,1337.3 C1505.2,1333.8 1513.9,1329.7 1522.5,1325.6 C1531.1,1321.5 1541.9,1316.0 1548.4,1312.7 C1554.9,1309.4 1556.0,1308.7 1561.3,1305.5 C1566.6,1302.3 1573.5,1297.2 1580.0,1293.5 C1586.5,1289.8 1593.3,1286.1 1600.0,1283.0 C1606.7,1279.9 1613.3,1277.4 1620.0,1275.0 C1626.7,1272.6 1633.3,1270.5 1640.0,1268.5 C1646.7,1266.5 1653.3,1264.7 1660.0,1263.0 C1666.7,1261.3 1673.3,1259.8 1680.0,1258.5 C1686.7,1257.2 1693.3,1256.0 1700.0,1255.0 C1706.7,1254.0 1713.0,1253.0 1720.0,1252.5 C1727.0,1252.0 1734.5,1251.2 1742.0,1252.0 C1749.5,1252.8 1758.2,1255.3 1765.0,1257.0 C1771.8,1258.7 1775.0,1259.7 1782.8,1262.4 C1790.6,1265.2 1804.3,1270.9 1811.7,1273.5 C1819.1,1276.1 1822.9,1277.5 1827.3,1278.0 C1831.7,1278.5 1834.7,1277.3 1838.0,1276.5 C1841.3,1275.7 1842.5,1272.4 1847.4,1273.0 C1852.3,1273.6 1860.2,1276.3 1867.5,1280.2 C1874.8,1284.1 1883.4,1291.7 1891.0,1296.5 C1898.6,1301.3 1905.6,1304.7 1912.9,1309.0 C1920.2,1313.3 1927.5,1318.0 1934.8,1322.2 C1942.1,1326.4 1951.7,1331.2 1956.7,1334.3 C1961.7,1337.4 1962.3,1338.1 1965.0,1340.8 C1967.7,1343.5 1970.9,1348.1 1972.8,1350.5 C1974.7,1352.9 1975.9,1354.4 1976.6,1355.2" fill="none" stroke="#ff0000" stroke-width="8.0" stroke-linejoin="round"/>
<g fill="#fff" stroke="#7a7a7a" stroke-width="4.2"><circle cx="1165.2" cy="1398.0" r="10.9"/><circle cx="1172.6" cy="1381.9" r="10.9"/><circle cx="1180.2" cy="1366.3" r="10.9"/><circle cx="1187.9" cy="1351.3" r="10.9"/><circle cx="1195.8" cy="1337.0" r="10.9"/><circle cx="1203.8" cy="1327.7" r="10.9"/><circle cx="1212.0" cy="1319.0" r="10.9"/><circle cx="1220.4" cy="1310.9" r="10.9"/><circle cx="1228.9" cy="1303.4" r="10.9"/><circle cx="1237.6" cy="1293.4" r="10.9"/><circle cx="1246.4" cy="1284.7" r="10.9"/><circle cx="1255.5" cy="1276.0" r="10.9"/><circle cx="1264.7" cy="1266.0" r="10.9"/><circle cx="1274.1" cy="1254.8" r="10.9"/><circle cx="1283.8" cy="1243.6" r="10.9"/><circle cx="1293.6" cy="1233.6" r="10.9"/><circle cx="1303.7" cy="1231.1" r="10.9"/><circle cx="1313.9" cy="1227.4" r="10.9"/><circle cx="1324.4" cy="1228.0" r="10.9"/><circle cx="1335.2" cy="1234.3" r="10.9"/><circle cx="1346.2" cy="1239.9" r="10.9"/><circle cx="1357.4" cy="1252.3" r="10.9"/><circle cx="1368.9" cy="1242.4" r="10.9"/><circle cx="1380.7" cy="1239.2" r="10.9"/><circle cx="1392.7" cy="1251.5" r="10.9"/><circle cx="1405.1" cy="1271.0" r="10.9"/><circle cx="1417.7" cy="1290.7" r="10.9"/><circle cx="1430.7" cy="1308.8" r="10.9"/><circle cx="1443.9" cy="1321.8" r="10.9"/><circle cx="1457.6" cy="1329.5" r="10.9"/><circle cx="1471.5" cy="1332.1" r="10.9"/><circle cx="1485.9" cy="1327.6" r="10.9"/><circle cx="1500.6" cy="1321.1" r="10.9"/><circle cx="1515.7" cy="1312.0" r="10.9"/><circle cx="1531.2" cy="1306.2" r="10.9"/><circle cx="1547.1" cy="1299.1" r="10.9"/><circle cx="1563.5" cy="1293.3" r="10.9"/><circle cx="1580.4" cy="1286.1" r="10.9"/><circle cx="1597.7" cy="1279.7" r="10.9"/><circle cx="1615.5" cy="1273.2" r="10.9"/><circle cx="1633.9" cy="1267.4" r="10.9"/><circle cx="1652.8" cy="1262.2" r="10.9"/><circle cx="1672.3" cy="1255.9" r="10.9"/><circle cx="1692.4" cy="1253.2" r="10.9"/><circle cx="1713.1" cy="1250.5" r="10.9"/><circle cx="1734.5" cy="1247.8" r="10.9"/><circle cx="1756.5" cy="1248.7" r="10.9"/><circle cx="1779.3" cy="1251.4" r="10.9"/><circle cx="1802.9" cy="1255.0" r="10.9"/><circle cx="1827.2" cy="1262.2" r="10.9"/><circle cx="1852.4" cy="1285.5" r="10.9"/><circle cx="1878.5" cy="1298.0" r="10.9"/><circle cx="1905.5" cy="1333.9" r="10.9"/><circle cx="1933.5" cy="1412.8" r="10.9"/><circle cx="1962.6" cy="1433.5" r="10.9"/></g>
<rect x="1729.9" y="1038.3" width="229.9" height="97.5" fill="#fff" stroke="#8a8a8a" stroke-width="1.4"/>
<path d="M1735.6,1065.8H1810.1" stroke="#ff0000" stroke-width="8" stroke-linecap="round"/>
<circle cx="1772.3" cy="1111.5" r="10.4" fill="#fff" stroke="#7a7a7a" stroke-width="4.2"/>
<text x="1819.4" y="1077.5" font-size="37.07" font-weight="bold" text-anchor="start">Desired</text>
<text x="1820.1" y="1123.4" font-size="37.07" font-weight="bold" text-anchor="start">SNN</text>
<text x="1050.5" y="973.8" font-size="51" font-weight="normal">d</text><text x="1081.4" y="973.8" font-size="51" font-weight="normal">)</text></svg>
</body></html>
